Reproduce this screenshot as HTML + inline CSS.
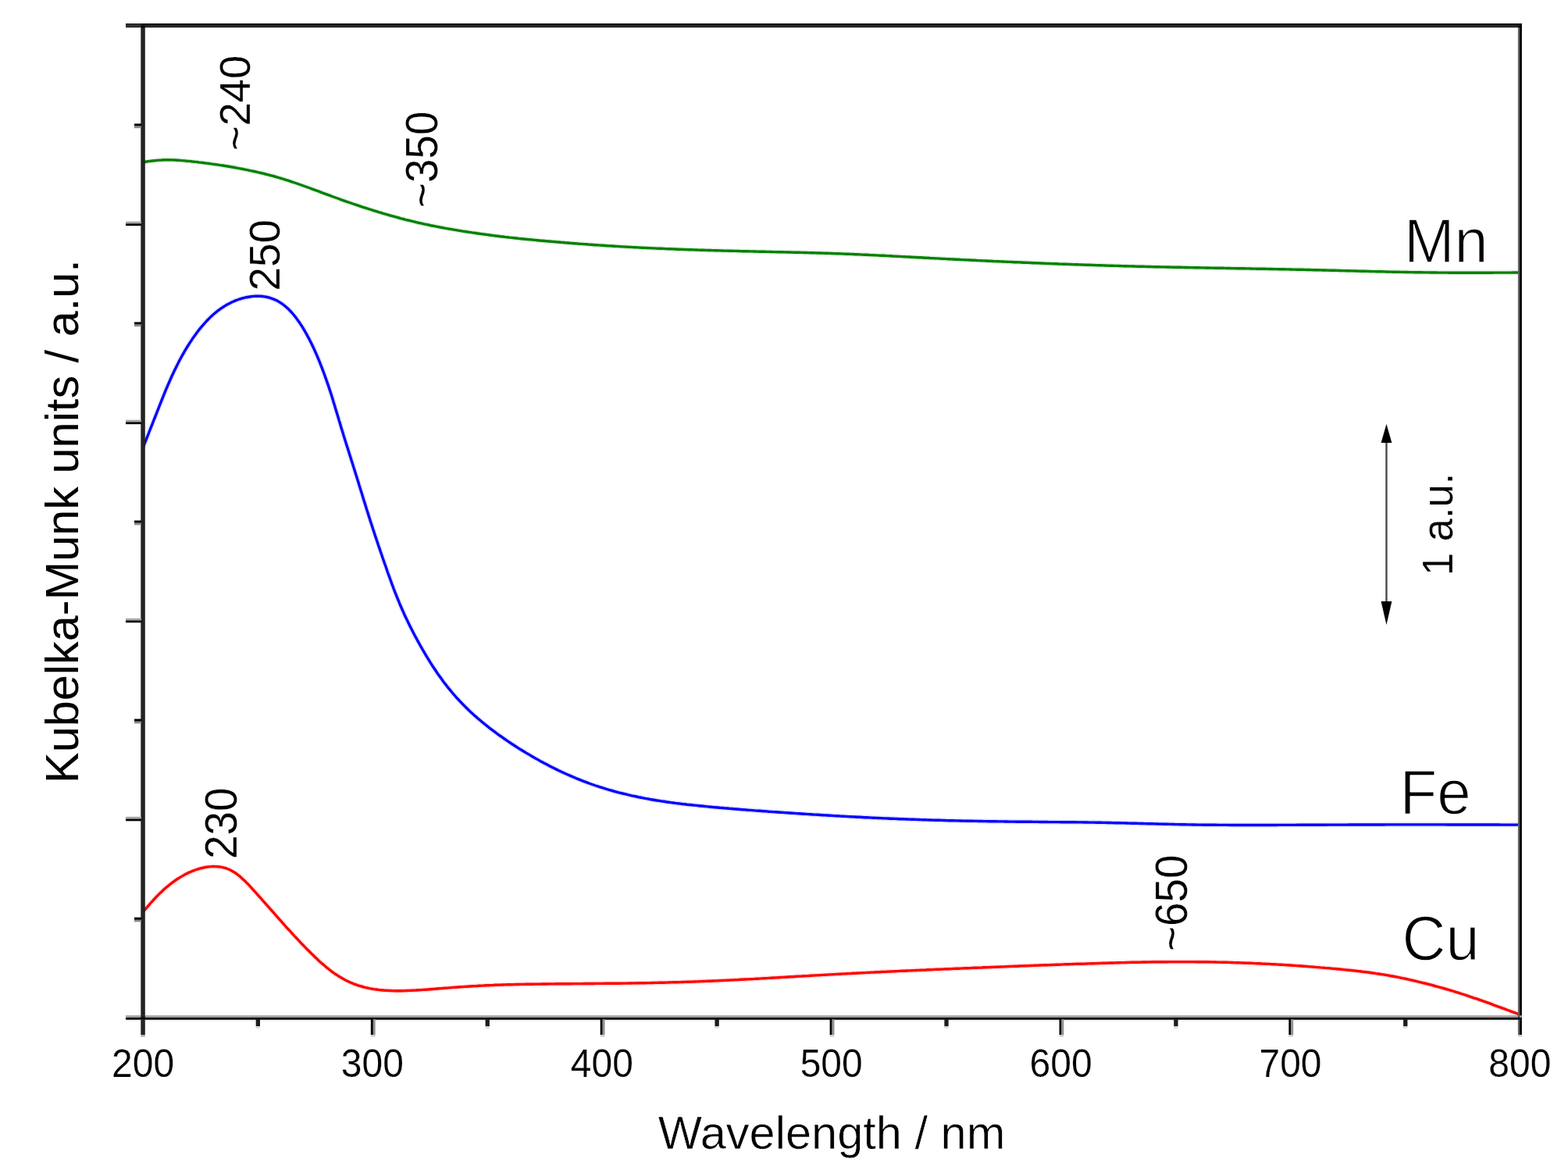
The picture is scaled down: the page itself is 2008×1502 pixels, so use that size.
<!DOCTYPE html>
<html lang="en"><head><meta charset="utf-8"><title>Kubelka-Munk spectra</title>
<style>
html,body{margin:0;padding:0;background:#fff;}
body{width:2008px;height:1502px;overflow:hidden;}
svg{display:block;}
text{font-family:"Liberation Sans",sans-serif;fill:#000;stroke:#fff;stroke-linejoin:round;}
.tick{font-size:48px;stroke-width:0.2px;}
.title{font-size:59.4px;stroke-width:0.6px;}
.ytitle{font-size:59.4px;stroke-width:0;}
.lab{font-size:76px;stroke-width:1.4px;}
.ann{font-size:54px;stroke-width:0.2px;}
.au{font-size:52.5px;stroke-width:0.2px;}
</style></head><body>
<svg width="2008" height="1502" viewBox="0 0 2008 1502">
<rect width="2008" height="1502" fill="#fff"/>

<g fill="none" stroke-linejoin="round" stroke-linecap="butt">
<path d="M183.0 207.7 L186.0 207.2 L188.9 206.8 L191.9 206.4 L194.8 206.0 L197.8 205.7 L200.8 205.4 L203.8 205.1 L206.8 205.0 L209.7 204.8 L212.7 204.8 L215.7 204.8 L218.7 204.8 L221.7 204.9 L224.7 205.0 L227.7 205.2 L230.7 205.4 L233.6 205.6 L236.6 205.9 L239.6 206.2 L242.6 206.4 L245.6 206.8 L248.6 207.1 L251.6 207.4 L254.5 207.8 L257.5 208.1 L260.5 208.5 L263.5 208.9 L266.5 209.2 L269.4 209.6 L272.4 210.1 L275.4 210.5 L278.3 210.9 L281.3 211.4 L284.3 211.8 L287.2 212.3 L290.2 212.8 L293.2 213.3 L296.1 213.8 L299.1 214.3 L302.0 214.8 L305.0 215.4 L307.9 215.9 L310.9 216.5 L313.8 217.1 L316.7 217.7 L319.7 218.3 L322.6 218.9 L325.5 219.5 L328.5 220.2 L331.4 220.9 L334.3 221.5 L337.2 222.2 L340.1 223.0 L343.0 223.7 L345.9 224.5 L348.8 225.2 L351.7 226.0 L354.6 226.8 L357.5 227.7 L360.3 228.5 L363.2 229.4 L366.1 230.3 L368.9 231.2 L371.8 232.1 L374.6 233.1 L377.4 234.0 L380.3 235.0 L383.1 236.0 L385.9 237.0 L388.8 238.0 L391.6 239.0 L394.4 240.0 L397.2 241.0 L400.0 242.1 L402.8 243.1 L405.6 244.2 L408.5 245.2 L411.3 246.3 L414.1 247.3 L416.9 248.4 L419.7 249.4 L422.5 250.4 L425.3 251.5 L428.1 252.5 L431.0 253.5 L433.8 254.5 L436.6 255.6 L439.4 256.6 L442.2 257.6 L445.1 258.6 L447.9 259.5 L450.7 260.5 L453.6 261.5 L456.4 262.4 L459.3 263.4 L462.1 264.3 L465.0 265.3 L467.8 266.2 L470.7 267.1 L473.5 268.0 L476.4 268.9 L479.2 269.8 L482.1 270.7 L485.0 271.6 L487.9 272.4 L490.7 273.3 L493.6 274.1 L496.5 275.0 L499.4 275.8 L502.2 276.6 L505.1 277.4 L508.0 278.2 L510.9 279.0 L513.8 279.8 L516.7 280.5 L519.6 281.3 L522.5 282.0 L525.4 282.7 L528.3 283.4 L531.3 284.1 L534.2 284.8 L537.1 285.5 L540.0 286.1 L542.9 286.8 L545.9 287.4 L548.8 288.0 L551.7 288.7 L554.7 289.2 L557.6 289.8 L560.6 290.4 L563.5 291.0 L566.4 291.5 L569.4 292.1 L572.3 292.6 L575.3 293.1 L578.3 293.6 L581.2 294.1 L584.2 294.6 L587.1 295.1 L590.1 295.6 L593.0 296.1 L596.0 296.5 L599.0 297.0 L601.9 297.4 L604.9 297.9 L607.9 298.3 L610.8 298.8 L613.8 299.2 L616.8 299.6 L619.7 300.0 L622.7 300.4 L625.7 300.8 L628.6 301.2 L631.6 301.6 L634.6 302.0 L637.6 302.3 L640.5 302.7 L643.5 303.0 L646.5 303.4 L649.5 303.7 L652.5 304.1 L655.4 304.4 L658.4 304.7 L661.4 305.0 L664.4 305.4 L667.4 305.7 L670.3 306.0 L673.3 306.3 L676.3 306.6 L679.3 306.8 L682.3 307.1 L685.3 307.4 L688.2 307.7 L691.2 308.0 L694.2 308.2 L697.2 308.5 L700.2 308.8 L703.2 309.0 L706.2 309.3 L709.1 309.5 L712.1 309.8 L715.1 310.0 L718.1 310.3 L721.1 310.5 L724.1 310.8 L727.1 311.0 L730.1 311.3 L733.1 311.5 L736.0 311.7 L739.0 311.9 L742.0 312.2 L745.0 312.4 L748.0 312.6 L751.0 312.8 L754.0 313.1 L757.0 313.3 L760.0 313.5 L763.0 313.7 L765.9 313.9 L768.9 314.1 L771.9 314.3 L774.9 314.5 L777.9 314.7 L780.9 314.9 L783.9 315.0 L786.9 315.2 L789.9 315.4 L792.9 315.6 L795.9 315.8 L798.9 315.9 L801.8 316.1 L804.8 316.3 L807.8 316.4 L810.8 316.6 L813.8 316.7 L816.8 316.9 L819.8 317.1 L822.8 317.2 L825.8 317.4 L828.8 317.5 L831.8 317.6 L834.8 317.8 L837.8 317.9 L840.8 318.1 L843.8 318.2 L846.8 318.3 L849.8 318.4 L852.8 318.6 L855.7 318.7 L858.7 318.8 L861.7 318.9 L864.7 319.0 L867.7 319.2 L870.7 319.3 L873.7 319.4 L876.7 319.5 L879.7 319.6 L882.7 319.7 L885.7 319.8 L888.7 319.9 L891.7 320.0 L894.7 320.1 L897.7 320.2 L900.7 320.3 L903.7 320.4 L906.7 320.5 L909.7 320.5 L912.7 320.6 L915.7 320.7 L918.7 320.8 L921.7 320.9 L924.7 321.0 L927.7 321.1 L930.7 321.1 L933.6 321.2 L936.6 321.3 L939.6 321.4 L942.6 321.4 L945.6 321.5 L948.6 321.6 L951.6 321.7 L954.6 321.7 L957.6 321.8 L960.6 321.9 L963.6 321.9 L966.6 322.0 L969.6 322.1 L972.6 322.2 L975.6 322.2 L978.6 322.3 L981.6 322.4 L984.6 322.4 L987.6 322.5 L990.6 322.6 L993.6 322.6 L996.6 322.7 L999.6 322.8 L1002.6 322.8 L1005.6 322.9 L1008.6 323.0 L1011.6 323.0 L1014.6 323.1 L1017.6 323.2 L1020.6 323.2 L1023.6 323.3 L1026.6 323.4 L1029.6 323.5 L1032.5 323.5 L1035.5 323.6 L1038.5 323.7 L1041.5 323.8 L1044.5 323.9 L1047.5 324.0 L1050.5 324.0 L1053.5 324.1 L1056.5 324.2 L1059.5 324.3 L1062.5 324.4 L1065.5 324.5 L1068.5 324.6 L1071.5 324.7 L1074.5 324.8 L1077.5 324.9 L1080.5 325.1 L1083.5 325.2 L1086.5 325.3 L1089.5 325.4 L1092.5 325.5 L1095.5 325.7 L1098.5 325.8 L1101.4 325.9 L1104.4 326.1 L1107.4 326.2 L1110.4 326.3 L1113.4 326.5 L1116.4 326.6 L1119.4 326.8 L1122.4 326.9 L1125.4 327.1 L1128.4 327.2 L1131.4 327.3 L1134.4 327.5 L1137.4 327.6 L1140.4 327.8 L1143.4 328.0 L1146.4 328.1 L1149.4 328.3 L1152.3 328.4 L1155.3 328.6 L1158.3 328.7 L1161.3 328.9 L1164.3 329.0 L1167.3 329.2 L1170.3 329.4 L1173.3 329.5 L1176.3 329.7 L1179.3 329.8 L1182.3 330.0 L1185.3 330.2 L1188.3 330.3 L1191.3 330.5 L1194.3 330.6 L1197.3 330.8 L1200.2 330.9 L1203.2 331.1 L1206.2 331.3 L1209.2 331.4 L1212.2 331.6 L1215.2 331.7 L1218.2 331.9 L1221.2 332.0 L1224.2 332.2 L1227.2 332.3 L1230.2 332.5 L1233.2 332.6 L1236.2 332.8 L1239.2 332.9 L1242.2 333.0 L1245.2 333.2 L1248.2 333.3 L1251.1 333.5 L1254.1 333.6 L1257.1 333.8 L1260.1 333.9 L1263.1 334.0 L1266.1 334.2 L1269.1 334.3 L1272.1 334.5 L1275.1 334.6 L1278.1 334.7 L1281.1 334.9 L1284.1 335.0 L1287.1 335.1 L1290.1 335.3 L1293.1 335.4 L1296.1 335.5 L1299.1 335.7 L1302.1 335.8 L1305.1 335.9 L1308.0 336.0 L1311.0 336.2 L1314.0 336.3 L1317.0 336.4 L1320.0 336.5 L1323.0 336.7 L1326.0 336.8 L1329.0 336.9 L1332.0 337.0 L1335.0 337.1 L1338.0 337.3 L1341.0 337.4 L1344.0 337.5 L1347.0 337.6 L1350.0 337.7 L1353.0 337.8 L1356.0 338.0 L1359.0 338.1 L1362.0 338.2 L1365.0 338.3 L1368.0 338.4 L1371.0 338.5 L1374.0 338.6 L1376.9 338.7 L1379.9 338.8 L1382.9 338.9 L1385.9 339.0 L1388.9 339.1 L1391.9 339.2 L1394.9 339.3 L1397.9 339.4 L1400.9 339.5 L1403.9 339.6 L1406.9 339.7 L1409.9 339.8 L1412.9 339.9 L1415.9 340.0 L1418.9 340.1 L1421.9 340.2 L1424.9 340.3 L1427.9 340.4 L1430.9 340.4 L1433.9 340.5 L1436.9 340.6 L1439.9 340.7 L1442.9 340.8 L1445.9 340.9 L1448.9 340.9 L1451.9 341.0 L1454.9 341.1 L1457.8 341.2 L1460.8 341.2 L1463.8 341.3 L1466.8 341.4 L1469.8 341.5 L1472.8 341.5 L1475.8 341.6 L1478.8 341.7 L1481.8 341.7 L1484.8 341.8 L1487.8 341.9 L1490.8 341.9 L1493.8 342.0 L1496.8 342.0 L1499.8 342.1 L1502.8 342.2 L1505.8 342.2 L1508.8 342.3 L1511.8 342.3 L1514.8 342.4 L1517.8 342.5 L1520.8 342.5 L1523.8 342.6 L1526.8 342.6 L1529.8 342.7 L1532.8 342.7 L1535.8 342.8 L1538.8 342.9 L1541.8 342.9 L1544.8 343.0 L1547.8 343.0 L1550.8 343.1 L1553.8 343.1 L1556.8 343.2 L1559.8 343.2 L1562.7 343.3 L1565.7 343.3 L1568.7 343.4 L1571.7 343.5 L1574.7 343.5 L1577.7 343.6 L1580.7 343.6 L1583.7 343.7 L1586.7 343.7 L1589.7 343.8 L1592.7 343.8 L1595.7 343.9 L1598.7 343.9 L1601.7 344.0 L1604.7 344.1 L1607.7 344.1 L1610.7 344.2 L1613.7 344.2 L1616.7 344.3 L1619.7 344.3 L1622.7 344.4 L1625.7 344.5 L1628.7 344.5 L1631.7 344.6 L1634.7 344.6 L1637.7 344.7 L1640.7 344.8 L1643.7 344.8 L1646.7 344.9 L1649.7 344.9 L1652.7 345.0 L1655.7 345.1 L1658.7 345.1 L1661.7 345.2 L1664.7 345.3 L1667.7 345.3 L1670.6 345.4 L1673.6 345.5 L1676.6 345.5 L1679.6 345.6 L1682.6 345.7 L1685.6 345.7 L1688.6 345.8 L1691.6 345.9 L1694.6 346.0 L1697.6 346.0 L1700.6 346.1 L1703.6 346.2 L1706.6 346.2 L1709.6 346.3 L1712.6 346.4 L1715.6 346.5 L1718.6 346.6 L1721.6 346.6 L1724.6 346.7 L1727.6 346.8 L1730.6 346.9 L1733.6 346.9 L1736.6 347.0 L1739.6 347.1 L1742.6 347.2 L1745.6 347.3 L1748.6 347.3 L1751.6 347.4 L1754.6 347.5 L1757.6 347.6 L1760.6 347.6 L1763.6 347.7 L1766.5 347.8 L1769.5 347.8 L1772.5 347.9 L1775.5 348.0 L1778.5 348.1 L1781.5 348.1 L1784.5 348.2 L1787.5 348.3 L1790.5 348.3 L1793.5 348.4 L1796.5 348.4 L1799.5 348.5 L1802.5 348.5 L1805.5 348.6 L1808.5 348.6 L1811.5 348.7 L1814.5 348.7 L1817.5 348.8 L1820.5 348.8 L1823.5 348.9 L1826.5 348.9 L1829.5 348.9 L1832.5 349.0 L1835.5 349.0 L1838.5 349.0 L1841.5 349.1 L1844.5 349.1 L1847.5 349.1 L1850.5 349.1 L1853.5 349.1 L1856.5 349.2 L1859.5 349.2 L1862.5 349.2 L1865.5 349.2 L1868.5 349.2 L1871.5 349.2 L1874.5 349.2 L1877.4 349.2 L1880.4 349.2 L1883.4 349.2 L1886.4 349.2 L1889.4 349.2 L1892.4 349.2 L1895.4 349.2 L1898.4 349.2 L1901.4 349.2 L1904.4 349.2 L1907.4 349.2 L1910.4 349.2 L1913.4 349.1 L1916.4 349.1 L1919.4 349.1 L1922.4 349.1 L1925.4 349.1 L1928.4 349.1 L1931.4 349.1 L1934.4 349.1 L1937.4 349.0 L1940.4 349.0 L1943.4 349.0 L1946.4 349.0" stroke="#008000" stroke-opacity="0.10" stroke-width="6.6"/>
<path d="M183.0 207.7 L186.0 207.2 L188.9 206.8 L191.9 206.4 L194.8 206.0 L197.8 205.7 L200.8 205.4 L203.8 205.1 L206.8 205.0 L209.7 204.8 L212.7 204.8 L215.7 204.8 L218.7 204.8 L221.7 204.9 L224.7 205.0 L227.7 205.2 L230.7 205.4 L233.6 205.6 L236.6 205.9 L239.6 206.2 L242.6 206.4 L245.6 206.8 L248.6 207.1 L251.6 207.4 L254.5 207.8 L257.5 208.1 L260.5 208.5 L263.5 208.9 L266.5 209.2 L269.4 209.6 L272.4 210.1 L275.4 210.5 L278.3 210.9 L281.3 211.4 L284.3 211.8 L287.2 212.3 L290.2 212.8 L293.2 213.3 L296.1 213.8 L299.1 214.3 L302.0 214.8 L305.0 215.4 L307.9 215.9 L310.9 216.5 L313.8 217.1 L316.7 217.7 L319.7 218.3 L322.6 218.9 L325.5 219.5 L328.5 220.2 L331.4 220.9 L334.3 221.5 L337.2 222.2 L340.1 223.0 L343.0 223.7 L345.9 224.5 L348.8 225.2 L351.7 226.0 L354.6 226.8 L357.5 227.7 L360.3 228.5 L363.2 229.4 L366.1 230.3 L368.9 231.2 L371.8 232.1 L374.6 233.1 L377.4 234.0 L380.3 235.0 L383.1 236.0 L385.9 237.0 L388.8 238.0 L391.6 239.0 L394.4 240.0 L397.2 241.0 L400.0 242.1 L402.8 243.1 L405.6 244.2 L408.5 245.2 L411.3 246.3 L414.1 247.3 L416.9 248.4 L419.7 249.4 L422.5 250.4 L425.3 251.5 L428.1 252.5 L431.0 253.5 L433.8 254.5 L436.6 255.6 L439.4 256.6 L442.2 257.6 L445.1 258.6 L447.9 259.5 L450.7 260.5 L453.6 261.5 L456.4 262.4 L459.3 263.4 L462.1 264.3 L465.0 265.3 L467.8 266.2 L470.7 267.1 L473.5 268.0 L476.4 268.9 L479.2 269.8 L482.1 270.7 L485.0 271.6 L487.9 272.4 L490.7 273.3 L493.6 274.1 L496.5 275.0 L499.4 275.8 L502.2 276.6 L505.1 277.4 L508.0 278.2 L510.9 279.0 L513.8 279.8 L516.7 280.5 L519.6 281.3 L522.5 282.0 L525.4 282.7 L528.3 283.4 L531.3 284.1 L534.2 284.8 L537.1 285.5 L540.0 286.1 L542.9 286.8 L545.9 287.4 L548.8 288.0 L551.7 288.7 L554.7 289.2 L557.6 289.8 L560.6 290.4 L563.5 291.0 L566.4 291.5 L569.4 292.1 L572.3 292.6 L575.3 293.1 L578.3 293.6 L581.2 294.1 L584.2 294.6 L587.1 295.1 L590.1 295.6 L593.0 296.1 L596.0 296.5 L599.0 297.0 L601.9 297.4 L604.9 297.9 L607.9 298.3 L610.8 298.8 L613.8 299.2 L616.8 299.6 L619.7 300.0 L622.7 300.4 L625.7 300.8 L628.6 301.2 L631.6 301.6 L634.6 302.0 L637.6 302.3 L640.5 302.7 L643.5 303.0 L646.5 303.4 L649.5 303.7 L652.5 304.1 L655.4 304.4 L658.4 304.7 L661.4 305.0 L664.4 305.4 L667.4 305.7 L670.3 306.0 L673.3 306.3 L676.3 306.6 L679.3 306.8 L682.3 307.1 L685.3 307.4 L688.2 307.7 L691.2 308.0 L694.2 308.2 L697.2 308.5 L700.2 308.8 L703.2 309.0 L706.2 309.3 L709.1 309.5 L712.1 309.8 L715.1 310.0 L718.1 310.3 L721.1 310.5 L724.1 310.8 L727.1 311.0 L730.1 311.3 L733.1 311.5 L736.0 311.7 L739.0 311.9 L742.0 312.2 L745.0 312.4 L748.0 312.6 L751.0 312.8 L754.0 313.1 L757.0 313.3 L760.0 313.5 L763.0 313.7 L765.9 313.9 L768.9 314.1 L771.9 314.3 L774.9 314.5 L777.9 314.7 L780.9 314.9 L783.9 315.0 L786.9 315.2 L789.9 315.4 L792.9 315.6 L795.9 315.8 L798.9 315.9 L801.8 316.1 L804.8 316.3 L807.8 316.4 L810.8 316.6 L813.8 316.7 L816.8 316.9 L819.8 317.1 L822.8 317.2 L825.8 317.4 L828.8 317.5 L831.8 317.6 L834.8 317.8 L837.8 317.9 L840.8 318.1 L843.8 318.2 L846.8 318.3 L849.8 318.4 L852.8 318.6 L855.7 318.7 L858.7 318.8 L861.7 318.9 L864.7 319.0 L867.7 319.2 L870.7 319.3 L873.7 319.4 L876.7 319.5 L879.7 319.6 L882.7 319.7 L885.7 319.8 L888.7 319.9 L891.7 320.0 L894.7 320.1 L897.7 320.2 L900.7 320.3 L903.7 320.4 L906.7 320.5 L909.7 320.5 L912.7 320.6 L915.7 320.7 L918.7 320.8 L921.7 320.9 L924.7 321.0 L927.7 321.1 L930.7 321.1 L933.6 321.2 L936.6 321.3 L939.6 321.4 L942.6 321.4 L945.6 321.5 L948.6 321.6 L951.6 321.7 L954.6 321.7 L957.6 321.8 L960.6 321.9 L963.6 321.9 L966.6 322.0 L969.6 322.1 L972.6 322.2 L975.6 322.2 L978.6 322.3 L981.6 322.4 L984.6 322.4 L987.6 322.5 L990.6 322.6 L993.6 322.6 L996.6 322.7 L999.6 322.8 L1002.6 322.8 L1005.6 322.9 L1008.6 323.0 L1011.6 323.0 L1014.6 323.1 L1017.6 323.2 L1020.6 323.2 L1023.6 323.3 L1026.6 323.4 L1029.6 323.5 L1032.5 323.5 L1035.5 323.6 L1038.5 323.7 L1041.5 323.8 L1044.5 323.9 L1047.5 324.0 L1050.5 324.0 L1053.5 324.1 L1056.5 324.2 L1059.5 324.3 L1062.5 324.4 L1065.5 324.5 L1068.5 324.6 L1071.5 324.7 L1074.5 324.8 L1077.5 324.9 L1080.5 325.1 L1083.5 325.2 L1086.5 325.3 L1089.5 325.4 L1092.5 325.5 L1095.5 325.7 L1098.5 325.8 L1101.4 325.9 L1104.4 326.1 L1107.4 326.2 L1110.4 326.3 L1113.4 326.5 L1116.4 326.6 L1119.4 326.8 L1122.4 326.9 L1125.4 327.1 L1128.4 327.2 L1131.4 327.3 L1134.4 327.5 L1137.4 327.6 L1140.4 327.8 L1143.4 328.0 L1146.4 328.1 L1149.4 328.3 L1152.3 328.4 L1155.3 328.6 L1158.3 328.7 L1161.3 328.9 L1164.3 329.0 L1167.3 329.2 L1170.3 329.4 L1173.3 329.5 L1176.3 329.7 L1179.3 329.8 L1182.3 330.0 L1185.3 330.2 L1188.3 330.3 L1191.3 330.5 L1194.3 330.6 L1197.3 330.8 L1200.2 330.9 L1203.2 331.1 L1206.2 331.3 L1209.2 331.4 L1212.2 331.6 L1215.2 331.7 L1218.2 331.9 L1221.2 332.0 L1224.2 332.2 L1227.2 332.3 L1230.2 332.5 L1233.2 332.6 L1236.2 332.8 L1239.2 332.9 L1242.2 333.0 L1245.2 333.2 L1248.2 333.3 L1251.1 333.5 L1254.1 333.6 L1257.1 333.8 L1260.1 333.9 L1263.1 334.0 L1266.1 334.2 L1269.1 334.3 L1272.1 334.5 L1275.1 334.6 L1278.1 334.7 L1281.1 334.9 L1284.1 335.0 L1287.1 335.1 L1290.1 335.3 L1293.1 335.4 L1296.1 335.5 L1299.1 335.7 L1302.1 335.8 L1305.1 335.9 L1308.0 336.0 L1311.0 336.2 L1314.0 336.3 L1317.0 336.4 L1320.0 336.5 L1323.0 336.7 L1326.0 336.8 L1329.0 336.9 L1332.0 337.0 L1335.0 337.1 L1338.0 337.3 L1341.0 337.4 L1344.0 337.5 L1347.0 337.6 L1350.0 337.7 L1353.0 337.8 L1356.0 338.0 L1359.0 338.1 L1362.0 338.2 L1365.0 338.3 L1368.0 338.4 L1371.0 338.5 L1374.0 338.6 L1376.9 338.7 L1379.9 338.8 L1382.9 338.9 L1385.9 339.0 L1388.9 339.1 L1391.9 339.2 L1394.9 339.3 L1397.9 339.4 L1400.9 339.5 L1403.9 339.6 L1406.9 339.7 L1409.9 339.8 L1412.9 339.9 L1415.9 340.0 L1418.9 340.1 L1421.9 340.2 L1424.9 340.3 L1427.9 340.4 L1430.9 340.4 L1433.9 340.5 L1436.9 340.6 L1439.9 340.7 L1442.9 340.8 L1445.9 340.9 L1448.9 340.9 L1451.9 341.0 L1454.9 341.1 L1457.8 341.2 L1460.8 341.2 L1463.8 341.3 L1466.8 341.4 L1469.8 341.5 L1472.8 341.5 L1475.8 341.6 L1478.8 341.7 L1481.8 341.7 L1484.8 341.8 L1487.8 341.9 L1490.8 341.9 L1493.8 342.0 L1496.8 342.0 L1499.8 342.1 L1502.8 342.2 L1505.8 342.2 L1508.8 342.3 L1511.8 342.3 L1514.8 342.4 L1517.8 342.5 L1520.8 342.5 L1523.8 342.6 L1526.8 342.6 L1529.8 342.7 L1532.8 342.7 L1535.8 342.8 L1538.8 342.9 L1541.8 342.9 L1544.8 343.0 L1547.8 343.0 L1550.8 343.1 L1553.8 343.1 L1556.8 343.2 L1559.8 343.2 L1562.7 343.3 L1565.7 343.3 L1568.7 343.4 L1571.7 343.5 L1574.7 343.5 L1577.7 343.6 L1580.7 343.6 L1583.7 343.7 L1586.7 343.7 L1589.7 343.8 L1592.7 343.8 L1595.7 343.9 L1598.7 343.9 L1601.7 344.0 L1604.7 344.1 L1607.7 344.1 L1610.7 344.2 L1613.7 344.2 L1616.7 344.3 L1619.7 344.3 L1622.7 344.4 L1625.7 344.5 L1628.7 344.5 L1631.7 344.6 L1634.7 344.6 L1637.7 344.7 L1640.7 344.8 L1643.7 344.8 L1646.7 344.9 L1649.7 344.9 L1652.7 345.0 L1655.7 345.1 L1658.7 345.1 L1661.7 345.2 L1664.7 345.3 L1667.7 345.3 L1670.6 345.4 L1673.6 345.5 L1676.6 345.5 L1679.6 345.6 L1682.6 345.7 L1685.6 345.7 L1688.6 345.8 L1691.6 345.9 L1694.6 346.0 L1697.6 346.0 L1700.6 346.1 L1703.6 346.2 L1706.6 346.2 L1709.6 346.3 L1712.6 346.4 L1715.6 346.5 L1718.6 346.6 L1721.6 346.6 L1724.6 346.7 L1727.6 346.8 L1730.6 346.9 L1733.6 346.9 L1736.6 347.0 L1739.6 347.1 L1742.6 347.2 L1745.6 347.3 L1748.6 347.3 L1751.6 347.4 L1754.6 347.5 L1757.6 347.6 L1760.6 347.6 L1763.6 347.7 L1766.5 347.8 L1769.5 347.8 L1772.5 347.9 L1775.5 348.0 L1778.5 348.1 L1781.5 348.1 L1784.5 348.2 L1787.5 348.3 L1790.5 348.3 L1793.5 348.4 L1796.5 348.4 L1799.5 348.5 L1802.5 348.5 L1805.5 348.6 L1808.5 348.6 L1811.5 348.7 L1814.5 348.7 L1817.5 348.8 L1820.5 348.8 L1823.5 348.9 L1826.5 348.9 L1829.5 348.9 L1832.5 349.0 L1835.5 349.0 L1838.5 349.0 L1841.5 349.1 L1844.5 349.1 L1847.5 349.1 L1850.5 349.1 L1853.5 349.1 L1856.5 349.2 L1859.5 349.2 L1862.5 349.2 L1865.5 349.2 L1868.5 349.2 L1871.5 349.2 L1874.5 349.2 L1877.4 349.2 L1880.4 349.2 L1883.4 349.2 L1886.4 349.2 L1889.4 349.2 L1892.4 349.2 L1895.4 349.2 L1898.4 349.2 L1901.4 349.2 L1904.4 349.2 L1907.4 349.2 L1910.4 349.2 L1913.4 349.1 L1916.4 349.1 L1919.4 349.1 L1922.4 349.1 L1925.4 349.1 L1928.4 349.1 L1931.4 349.1 L1934.4 349.1 L1937.4 349.0 L1940.4 349.0 L1943.4 349.0 L1946.4 349.0" stroke="#008000" stroke-width="3.4"/>
<path d="M183.0 573.5 L184.1 570.7 L185.2 567.9 L186.3 565.1 L187.4 562.4 L188.5 559.6 L189.6 556.8 L190.7 554.0 L191.8 551.2 L192.9 548.4 L194.0 545.6 L195.1 542.8 L196.2 540.0 L197.3 537.2 L198.4 534.5 L199.5 531.7 L200.6 528.9 L201.7 526.1 L202.8 523.3 L203.9 520.5 L205.0 517.7 L206.1 514.9 L207.2 512.1 L208.3 509.3 L209.4 506.6 L210.5 503.8 L211.7 501.0 L212.8 498.2 L214.0 495.5 L215.2 492.7 L216.4 490.0 L217.6 487.2 L218.8 484.5 L220.0 481.7 L221.3 479.0 L222.6 476.3 L223.9 473.6 L225.2 470.9 L226.5 468.2 L227.9 465.5 L229.2 462.8 L230.6 460.2 L232.1 457.5 L233.5 454.9 L235.0 452.3 L236.5 449.7 L238.0 447.1 L239.6 444.5 L241.2 442.0 L242.8 439.4 L244.5 436.9 L246.1 434.4 L247.8 431.9 L249.6 429.4 L251.4 427.0 L253.2 424.6 L255.0 422.2 L256.9 419.9 L258.8 417.6 L260.8 415.3 L262.8 413.0 L264.8 410.8 L266.9 408.7 L269.0 406.6 L271.2 404.5 L273.4 402.5 L275.7 400.6 L278.0 398.7 L280.4 396.9 L282.8 395.1 L285.3 393.5 L287.8 391.9 L290.4 390.3 L293.0 388.9 L295.7 387.5 L298.4 386.3 L301.1 385.1 L303.9 384.0 L306.8 383.0 L309.7 382.2 L312.6 381.4 L315.5 380.7 L318.4 380.2 L321.4 379.7 L324.4 379.4 L327.4 379.2 L330.3 379.2 L333.3 379.3 L336.3 379.5 L339.2 379.9 L342.1 380.5 L344.9 381.2 L347.7 382.1 L350.5 383.1 L353.2 384.3 L355.8 385.6 L358.3 387.1 L360.8 388.7 L363.2 390.5 L365.5 392.3 L367.7 394.3 L369.9 396.3 L372.0 398.5 L374.0 400.7 L376.0 403.0 L377.9 405.3 L379.7 407.7 L381.5 410.2 L383.2 412.6 L384.9 415.1 L386.6 417.7 L388.2 420.3 L389.7 422.9 L391.2 425.5 L392.7 428.1 L394.1 430.8 L395.6 433.4 L396.9 436.1 L398.3 438.8 L399.6 441.5 L400.9 444.2 L402.2 446.9 L403.4 449.7 L404.6 452.4 L405.8 455.2 L407.0 457.9 L408.1 460.7 L409.3 463.5 L410.4 466.3 L411.5 469.1 L412.6 471.9 L413.6 474.7 L414.7 477.5 L415.7 480.3 L416.7 483.1 L417.7 485.9 L418.7 488.8 L419.7 491.6 L420.7 494.4 L421.6 497.3 L422.5 500.1 L423.5 503.0 L424.4 505.8 L425.3 508.7 L426.2 511.5 L427.0 514.4 L427.9 517.3 L428.8 520.2 L429.6 523.0 L430.5 525.9 L431.4 528.8 L432.2 531.6 L433.1 534.5 L433.9 537.4 L434.8 540.2 L435.7 543.1 L436.5 546.0 L437.4 548.9 L438.3 551.7 L439.2 554.6 L440.0 557.5 L440.9 560.3 L441.8 563.2 L442.7 566.0 L443.6 568.9 L444.5 571.8 L445.4 574.6 L446.3 577.5 L447.2 580.3 L448.1 583.2 L449.0 586.1 L449.9 588.9 L450.8 591.8 L451.7 594.6 L452.6 597.5 L453.5 600.3 L454.4 603.2 L455.3 606.1 L456.2 608.9 L457.1 611.8 L458.0 614.7 L458.9 617.5 L459.7 620.4 L460.6 623.2 L461.5 626.1 L462.4 629.0 L463.3 631.8 L464.2 634.7 L465.0 637.6 L465.9 640.4 L466.8 643.3 L467.7 646.1 L468.6 649.0 L469.5 651.9 L470.4 654.7 L471.3 657.6 L472.2 660.4 L473.1 663.3 L474.0 666.2 L474.9 669.0 L475.9 671.9 L476.8 674.7 L477.7 677.6 L478.7 680.4 L479.6 683.3 L480.5 686.1 L481.5 688.9 L482.4 691.8 L483.4 694.6 L484.3 697.5 L485.3 700.3 L486.3 703.2 L487.2 706.0 L488.2 708.8 L489.2 711.7 L490.1 714.5 L491.1 717.3 L492.1 720.2 L493.1 723.0 L494.1 725.8 L495.1 728.7 L496.0 731.5 L497.0 734.3 L498.1 737.1 L499.1 740.0 L500.1 742.8 L501.1 745.6 L502.1 748.4 L503.2 751.2 L504.2 754.0 L505.3 756.8 L506.4 759.6 L507.5 762.4 L508.6 765.2 L509.7 767.9 L510.9 770.7 L512.0 773.5 L513.2 776.2 L514.4 779.0 L515.6 781.7 L516.8 784.4 L518.0 787.2 L519.3 789.9 L520.6 792.6 L521.9 795.3 L523.2 798.0 L524.5 800.7 L525.8 803.3 L527.2 806.0 L528.6 808.7 L529.9 811.3 L531.3 814.0 L532.8 816.6 L534.2 819.2 L535.6 821.9 L537.1 824.5 L538.5 827.1 L540.0 829.7 L541.5 832.3 L543.0 834.9 L544.5 837.5 L546.1 840.1 L547.6 842.6 L549.2 845.2 L550.8 847.8 L552.4 850.3 L554.0 852.8 L555.6 855.3 L557.3 857.8 L559.0 860.3 L560.6 862.8 L562.4 865.2 L564.1 867.6 L565.9 870.1 L567.6 872.5 L569.4 874.9 L571.3 877.2 L573.1 879.6 L575.0 881.9 L576.9 884.2 L578.8 886.5 L580.8 888.8 L582.7 891.0 L584.7 893.3 L586.7 895.5 L588.7 897.7 L590.8 899.8 L592.9 902.0 L595.0 904.1 L597.1 906.2 L599.2 908.3 L601.4 910.4 L603.6 912.4 L605.8 914.4 L608.0 916.4 L610.3 918.4 L612.5 920.4 L614.8 922.3 L617.1 924.2 L619.4 926.2 L621.7 928.0 L624.1 929.9 L626.4 931.8 L628.8 933.6 L631.2 935.4 L633.6 937.2 L636.0 939.0 L638.4 940.8 L640.9 942.5 L643.3 944.2 L645.8 946.0 L648.3 947.7 L650.7 949.3 L653.2 951.0 L655.7 952.7 L658.2 954.3 L660.8 956.0 L663.3 957.6 L665.8 959.2 L668.4 960.7 L670.9 962.3 L673.5 963.9 L676.1 965.4 L678.7 966.9 L681.3 968.5 L683.9 970.0 L686.5 971.4 L689.1 972.9 L691.7 974.4 L694.3 975.8 L697.0 977.2 L699.6 978.6 L702.3 980.0 L704.9 981.4 L707.6 982.7 L710.3 984.1 L713.0 985.4 L715.7 986.7 L718.4 988.0 L721.1 989.2 L723.8 990.5 L726.6 991.7 L729.3 992.9 L732.1 994.1 L734.8 995.3 L737.6 996.5 L740.3 997.6 L743.1 998.7 L745.9 999.8 L748.7 1000.9 L751.5 1001.9 L754.3 1003.0 L757.1 1004.0 L760.0 1005.0 L762.8 1006.0 L765.6 1006.9 L768.5 1007.8 L771.3 1008.7 L774.2 1009.6 L777.0 1010.5 L779.9 1011.4 L782.8 1012.2 L785.7 1013.0 L788.6 1013.8 L791.5 1014.6 L794.4 1015.3 L797.3 1016.0 L800.2 1016.7 L803.1 1017.4 L806.0 1018.1 L808.9 1018.8 L811.9 1019.4 L814.8 1020.0 L817.7 1020.7 L820.7 1021.2 L823.6 1021.8 L826.6 1022.4 L829.5 1022.9 L832.5 1023.5 L835.4 1024.0 L838.4 1024.5 L841.3 1025.0 L844.3 1025.4 L847.2 1025.9 L850.2 1026.3 L853.2 1026.8 L856.1 1027.2 L859.1 1027.6 L862.1 1028.0 L865.1 1028.4 L868.0 1028.7 L871.0 1029.1 L874.0 1029.5 L877.0 1029.8 L879.9 1030.2 L882.9 1030.5 L885.9 1030.8 L888.9 1031.1 L891.9 1031.4 L894.9 1031.7 L897.8 1032.0 L900.8 1032.3 L903.8 1032.6 L906.8 1032.9 L909.8 1033.2 L912.8 1033.5 L915.8 1033.7 L918.7 1034.0 L921.7 1034.3 L924.7 1034.5 L927.7 1034.8 L930.7 1035.0 L933.7 1035.3 L936.7 1035.5 L939.7 1035.8 L942.6 1036.0 L945.6 1036.2 L948.6 1036.5 L951.6 1036.7 L954.6 1036.9 L957.6 1037.2 L960.6 1037.4 L963.6 1037.6 L966.6 1037.9 L969.6 1038.1 L972.5 1038.3 L975.5 1038.5 L978.5 1038.7 L981.5 1038.9 L984.5 1039.2 L987.5 1039.4 L990.5 1039.6 L993.5 1039.8 L996.5 1040.0 L999.5 1040.2 L1002.5 1040.4 L1005.4 1040.6 L1008.4 1040.8 L1011.4 1041.0 L1014.4 1041.2 L1017.4 1041.4 L1020.4 1041.6 L1023.4 1041.8 L1026.4 1042.0 L1029.4 1042.2 L1032.4 1042.4 L1035.4 1042.6 L1038.3 1042.8 L1041.3 1043.0 L1044.3 1043.1 L1047.3 1043.3 L1050.3 1043.5 L1053.3 1043.7 L1056.3 1043.9 L1059.3 1044.0 L1062.3 1044.2 L1065.3 1044.4 L1068.3 1044.6 L1071.3 1044.7 L1074.3 1044.9 L1077.2 1045.1 L1080.2 1045.2 L1083.2 1045.4 L1086.2 1045.6 L1089.2 1045.7 L1092.2 1045.9 L1095.2 1046.0 L1098.2 1046.2 L1101.2 1046.3 L1104.2 1046.5 L1107.2 1046.7 L1110.2 1046.8 L1113.2 1046.9 L1116.2 1047.1 L1119.2 1047.2 L1122.2 1047.4 L1125.1 1047.5 L1128.1 1047.6 L1131.1 1047.8 L1134.1 1047.9 L1137.1 1048.0 L1140.1 1048.2 L1143.1 1048.3 L1146.1 1048.4 L1149.1 1048.5 L1152.1 1048.7 L1155.1 1048.8 L1158.1 1048.9 L1161.1 1049.0 L1164.1 1049.1 L1167.1 1049.2 L1170.1 1049.3 L1173.1 1049.4 L1176.1 1049.5 L1179.1 1049.6 L1182.1 1049.7 L1185.1 1049.8 L1188.1 1049.9 L1191.1 1050.0 L1194.0 1050.1 L1197.0 1050.2 L1200.0 1050.3 L1203.0 1050.3 L1206.0 1050.4 L1209.0 1050.5 L1212.0 1050.6 L1215.0 1050.7 L1218.0 1050.7 L1221.0 1050.8 L1224.0 1050.9 L1227.0 1050.9 L1230.0 1051.0 L1233.0 1051.1 L1236.0 1051.1 L1239.0 1051.2 L1242.0 1051.3 L1245.0 1051.3 L1248.0 1051.4 L1251.0 1051.4 L1254.0 1051.5 L1257.0 1051.5 L1260.0 1051.6 L1263.0 1051.6 L1266.0 1051.7 L1269.0 1051.7 L1272.0 1051.8 L1275.0 1051.8 L1278.0 1051.9 L1281.0 1051.9 L1284.0 1051.9 L1287.0 1052.0 L1290.0 1052.0 L1292.9 1052.1 L1295.9 1052.1 L1298.9 1052.1 L1301.9 1052.2 L1304.9 1052.2 L1307.9 1052.2 L1310.9 1052.3 L1313.9 1052.3 L1316.9 1052.3 L1319.9 1052.3 L1322.9 1052.4 L1325.9 1052.4 L1328.9 1052.4 L1331.9 1052.5 L1334.9 1052.5 L1337.9 1052.5 L1340.9 1052.5 L1343.9 1052.6 L1346.9 1052.6 L1349.9 1052.6 L1352.9 1052.6 L1355.9 1052.6 L1358.9 1052.7 L1361.9 1052.7 L1364.9 1052.7 L1367.9 1052.8 L1370.9 1052.8 L1373.9 1052.8 L1376.9 1052.8 L1379.9 1052.9 L1382.9 1052.9 L1385.9 1052.9 L1388.9 1053.0 L1391.9 1053.0 L1394.9 1053.1 L1397.9 1053.1 L1400.9 1053.1 L1403.9 1053.2 L1406.9 1053.2 L1409.9 1053.3 L1412.8 1053.4 L1415.8 1053.4 L1418.8 1053.5 L1421.8 1053.5 L1424.8 1053.6 L1427.8 1053.7 L1430.8 1053.7 L1433.8 1053.8 L1436.8 1053.9 L1439.8 1053.9 L1442.8 1054.0 L1445.8 1054.1 L1448.8 1054.2 L1451.8 1054.2 L1454.8 1054.3 L1457.8 1054.4 L1460.8 1054.5 L1463.8 1054.5 L1466.8 1054.6 L1469.8 1054.7 L1472.8 1054.8 L1475.8 1054.8 L1478.8 1054.9 L1481.8 1055.0 L1484.8 1055.1 L1487.8 1055.1 L1490.8 1055.2 L1493.8 1055.3 L1496.8 1055.4 L1499.8 1055.4 L1502.8 1055.5 L1505.7 1055.6 L1508.7 1055.6 L1511.7 1055.7 L1514.7 1055.7 L1517.7 1055.8 L1520.7 1055.9 L1523.7 1055.9 L1526.7 1056.0 L1529.7 1056.0 L1532.7 1056.1 L1535.7 1056.1 L1538.7 1056.1 L1541.7 1056.2 L1544.7 1056.2 L1547.7 1056.3 L1550.7 1056.3 L1553.7 1056.3 L1556.7 1056.3 L1559.7 1056.4 L1562.7 1056.4 L1565.7 1056.4 L1568.7 1056.4 L1571.7 1056.4 L1574.7 1056.5 L1577.7 1056.5 L1580.7 1056.5 L1583.7 1056.5 L1586.7 1056.5 L1589.7 1056.5 L1592.7 1056.5 L1595.7 1056.5 L1598.7 1056.5 L1601.7 1056.5 L1604.7 1056.5 L1607.7 1056.5 L1610.7 1056.5 L1613.7 1056.5 L1616.6 1056.5 L1619.6 1056.5 L1622.6 1056.5 L1625.6 1056.5 L1628.6 1056.5 L1631.6 1056.5 L1634.6 1056.5 L1637.6 1056.4 L1640.6 1056.4 L1643.6 1056.4 L1646.6 1056.4 L1649.6 1056.4 L1652.6 1056.4 L1655.6 1056.4 L1658.6 1056.4 L1661.6 1056.3 L1664.6 1056.3 L1667.6 1056.3 L1670.6 1056.3 L1673.6 1056.3 L1676.6 1056.3 L1679.6 1056.2 L1682.6 1056.2 L1685.6 1056.2 L1688.6 1056.2 L1691.6 1056.2 L1694.6 1056.2 L1697.6 1056.2 L1700.6 1056.1 L1703.6 1056.1 L1706.6 1056.1 L1709.6 1056.1 L1712.6 1056.1 L1715.6 1056.1 L1718.6 1056.1 L1721.6 1056.1 L1724.6 1056.1 L1727.6 1056.0 L1730.6 1056.0 L1733.6 1056.0 L1736.6 1056.0 L1739.6 1056.0 L1742.6 1056.0 L1745.6 1056.0 L1748.6 1056.0 L1751.6 1056.0 L1754.5 1056.0 L1757.5 1056.0 L1760.5 1056.0 L1763.5 1056.0 L1766.5 1056.0 L1769.5 1056.0 L1772.5 1056.0 L1775.5 1055.9 L1778.5 1055.9 L1781.5 1055.9 L1784.5 1055.9 L1787.5 1055.9 L1790.5 1055.9 L1793.5 1055.9 L1796.5 1055.9 L1799.5 1055.9 L1802.5 1055.9 L1805.5 1055.9 L1808.5 1055.9 L1811.5 1055.9 L1814.5 1055.9 L1817.5 1055.9 L1820.5 1055.9 L1823.5 1055.9 L1826.5 1055.9 L1829.5 1055.9 L1832.5 1055.9 L1835.5 1055.9 L1838.5 1055.9 L1841.5 1055.9 L1844.5 1055.9 L1847.5 1055.9 L1850.5 1055.9 L1853.5 1056.0 L1856.5 1056.0 L1859.5 1056.0 L1862.5 1056.0 L1865.5 1056.0 L1868.5 1056.0 L1871.5 1056.0 L1874.5 1056.0 L1877.5 1056.0 L1880.5 1056.0 L1883.5 1056.0 L1886.4 1056.0 L1889.4 1056.0 L1892.4 1056.0 L1895.4 1056.0 L1898.4 1056.0 L1901.4 1056.0 L1904.4 1056.0 L1907.4 1056.0 L1910.4 1056.0 L1913.4 1056.0 L1916.4 1056.0 L1919.4 1056.0 L1922.4 1056.1 L1925.4 1056.1 L1928.4 1056.1 L1931.4 1056.1 L1934.4 1056.1 L1937.4 1056.1 L1940.4 1056.1 L1943.4 1056.1 L1946.4 1056.1" stroke="#0000ff" stroke-opacity="0.10" stroke-width="6.6"/>
<path d="M183.0 573.5 L184.1 570.7 L185.2 567.9 L186.3 565.1 L187.4 562.4 L188.5 559.6 L189.6 556.8 L190.7 554.0 L191.8 551.2 L192.9 548.4 L194.0 545.6 L195.1 542.8 L196.2 540.0 L197.3 537.2 L198.4 534.5 L199.5 531.7 L200.6 528.9 L201.7 526.1 L202.8 523.3 L203.9 520.5 L205.0 517.7 L206.1 514.9 L207.2 512.1 L208.3 509.3 L209.4 506.6 L210.5 503.8 L211.7 501.0 L212.8 498.2 L214.0 495.5 L215.2 492.7 L216.4 490.0 L217.6 487.2 L218.8 484.5 L220.0 481.7 L221.3 479.0 L222.6 476.3 L223.9 473.6 L225.2 470.9 L226.5 468.2 L227.9 465.5 L229.2 462.8 L230.6 460.2 L232.1 457.5 L233.5 454.9 L235.0 452.3 L236.5 449.7 L238.0 447.1 L239.6 444.5 L241.2 442.0 L242.8 439.4 L244.5 436.9 L246.1 434.4 L247.8 431.9 L249.6 429.4 L251.4 427.0 L253.2 424.6 L255.0 422.2 L256.9 419.9 L258.8 417.6 L260.8 415.3 L262.8 413.0 L264.8 410.8 L266.9 408.7 L269.0 406.6 L271.2 404.5 L273.4 402.5 L275.7 400.6 L278.0 398.7 L280.4 396.9 L282.8 395.1 L285.3 393.5 L287.8 391.9 L290.4 390.3 L293.0 388.9 L295.7 387.5 L298.4 386.3 L301.1 385.1 L303.9 384.0 L306.8 383.0 L309.7 382.2 L312.6 381.4 L315.5 380.7 L318.4 380.2 L321.4 379.7 L324.4 379.4 L327.4 379.2 L330.3 379.2 L333.3 379.3 L336.3 379.5 L339.2 379.9 L342.1 380.5 L344.9 381.2 L347.7 382.1 L350.5 383.1 L353.2 384.3 L355.8 385.6 L358.3 387.1 L360.8 388.7 L363.2 390.5 L365.5 392.3 L367.7 394.3 L369.9 396.3 L372.0 398.5 L374.0 400.7 L376.0 403.0 L377.9 405.3 L379.7 407.7 L381.5 410.2 L383.2 412.6 L384.9 415.1 L386.6 417.7 L388.2 420.3 L389.7 422.9 L391.2 425.5 L392.7 428.1 L394.1 430.8 L395.6 433.4 L396.9 436.1 L398.3 438.8 L399.6 441.5 L400.9 444.2 L402.2 446.9 L403.4 449.7 L404.6 452.4 L405.8 455.2 L407.0 457.9 L408.1 460.7 L409.3 463.5 L410.4 466.3 L411.5 469.1 L412.6 471.9 L413.6 474.7 L414.7 477.5 L415.7 480.3 L416.7 483.1 L417.7 485.9 L418.7 488.8 L419.7 491.6 L420.7 494.4 L421.6 497.3 L422.5 500.1 L423.5 503.0 L424.4 505.8 L425.3 508.7 L426.2 511.5 L427.0 514.4 L427.9 517.3 L428.8 520.2 L429.6 523.0 L430.5 525.9 L431.4 528.8 L432.2 531.6 L433.1 534.5 L433.9 537.4 L434.8 540.2 L435.7 543.1 L436.5 546.0 L437.4 548.9 L438.3 551.7 L439.2 554.6 L440.0 557.5 L440.9 560.3 L441.8 563.2 L442.7 566.0 L443.6 568.9 L444.5 571.8 L445.4 574.6 L446.3 577.5 L447.2 580.3 L448.1 583.2 L449.0 586.1 L449.9 588.9 L450.8 591.8 L451.7 594.6 L452.6 597.5 L453.5 600.3 L454.4 603.2 L455.3 606.1 L456.2 608.9 L457.1 611.8 L458.0 614.7 L458.9 617.5 L459.7 620.4 L460.6 623.2 L461.5 626.1 L462.4 629.0 L463.3 631.8 L464.2 634.7 L465.0 637.6 L465.9 640.4 L466.8 643.3 L467.7 646.1 L468.6 649.0 L469.5 651.9 L470.4 654.7 L471.3 657.6 L472.2 660.4 L473.1 663.3 L474.0 666.2 L474.9 669.0 L475.9 671.9 L476.8 674.7 L477.7 677.6 L478.7 680.4 L479.6 683.3 L480.5 686.1 L481.5 688.9 L482.4 691.8 L483.4 694.6 L484.3 697.5 L485.3 700.3 L486.3 703.2 L487.2 706.0 L488.2 708.8 L489.2 711.7 L490.1 714.5 L491.1 717.3 L492.1 720.2 L493.1 723.0 L494.1 725.8 L495.1 728.7 L496.0 731.5 L497.0 734.3 L498.1 737.1 L499.1 740.0 L500.1 742.8 L501.1 745.6 L502.1 748.4 L503.2 751.2 L504.2 754.0 L505.3 756.8 L506.4 759.6 L507.5 762.4 L508.6 765.2 L509.7 767.9 L510.9 770.7 L512.0 773.5 L513.2 776.2 L514.4 779.0 L515.6 781.7 L516.8 784.4 L518.0 787.2 L519.3 789.9 L520.6 792.6 L521.9 795.3 L523.2 798.0 L524.5 800.7 L525.8 803.3 L527.2 806.0 L528.6 808.7 L529.9 811.3 L531.3 814.0 L532.8 816.6 L534.2 819.2 L535.6 821.9 L537.1 824.5 L538.5 827.1 L540.0 829.7 L541.5 832.3 L543.0 834.9 L544.5 837.5 L546.1 840.1 L547.6 842.6 L549.2 845.2 L550.8 847.8 L552.4 850.3 L554.0 852.8 L555.6 855.3 L557.3 857.8 L559.0 860.3 L560.6 862.8 L562.4 865.2 L564.1 867.6 L565.9 870.1 L567.6 872.5 L569.4 874.9 L571.3 877.2 L573.1 879.6 L575.0 881.9 L576.9 884.2 L578.8 886.5 L580.8 888.8 L582.7 891.0 L584.7 893.3 L586.7 895.5 L588.7 897.7 L590.8 899.8 L592.9 902.0 L595.0 904.1 L597.1 906.2 L599.2 908.3 L601.4 910.4 L603.6 912.4 L605.8 914.4 L608.0 916.4 L610.3 918.4 L612.5 920.4 L614.8 922.3 L617.1 924.2 L619.4 926.2 L621.7 928.0 L624.1 929.9 L626.4 931.8 L628.8 933.6 L631.2 935.4 L633.6 937.2 L636.0 939.0 L638.4 940.8 L640.9 942.5 L643.3 944.2 L645.8 946.0 L648.3 947.7 L650.7 949.3 L653.2 951.0 L655.7 952.7 L658.2 954.3 L660.8 956.0 L663.3 957.6 L665.8 959.2 L668.4 960.7 L670.9 962.3 L673.5 963.9 L676.1 965.4 L678.7 966.9 L681.3 968.5 L683.9 970.0 L686.5 971.4 L689.1 972.9 L691.7 974.4 L694.3 975.8 L697.0 977.2 L699.6 978.6 L702.3 980.0 L704.9 981.4 L707.6 982.7 L710.3 984.1 L713.0 985.4 L715.7 986.7 L718.4 988.0 L721.1 989.2 L723.8 990.5 L726.6 991.7 L729.3 992.9 L732.1 994.1 L734.8 995.3 L737.6 996.5 L740.3 997.6 L743.1 998.7 L745.9 999.8 L748.7 1000.9 L751.5 1001.9 L754.3 1003.0 L757.1 1004.0 L760.0 1005.0 L762.8 1006.0 L765.6 1006.9 L768.5 1007.8 L771.3 1008.7 L774.2 1009.6 L777.0 1010.5 L779.9 1011.4 L782.8 1012.2 L785.7 1013.0 L788.6 1013.8 L791.5 1014.6 L794.4 1015.3 L797.3 1016.0 L800.2 1016.7 L803.1 1017.4 L806.0 1018.1 L808.9 1018.8 L811.9 1019.4 L814.8 1020.0 L817.7 1020.7 L820.7 1021.2 L823.6 1021.8 L826.6 1022.4 L829.5 1022.9 L832.5 1023.5 L835.4 1024.0 L838.4 1024.5 L841.3 1025.0 L844.3 1025.4 L847.2 1025.9 L850.2 1026.3 L853.2 1026.8 L856.1 1027.2 L859.1 1027.6 L862.1 1028.0 L865.1 1028.4 L868.0 1028.7 L871.0 1029.1 L874.0 1029.5 L877.0 1029.8 L879.9 1030.2 L882.9 1030.5 L885.9 1030.8 L888.9 1031.1 L891.9 1031.4 L894.9 1031.7 L897.8 1032.0 L900.8 1032.3 L903.8 1032.6 L906.8 1032.9 L909.8 1033.2 L912.8 1033.5 L915.8 1033.7 L918.7 1034.0 L921.7 1034.3 L924.7 1034.5 L927.7 1034.8 L930.7 1035.0 L933.7 1035.3 L936.7 1035.5 L939.7 1035.8 L942.6 1036.0 L945.6 1036.2 L948.6 1036.5 L951.6 1036.7 L954.6 1036.9 L957.6 1037.2 L960.6 1037.4 L963.6 1037.6 L966.6 1037.9 L969.6 1038.1 L972.5 1038.3 L975.5 1038.5 L978.5 1038.7 L981.5 1038.9 L984.5 1039.2 L987.5 1039.4 L990.5 1039.6 L993.5 1039.8 L996.5 1040.0 L999.5 1040.2 L1002.5 1040.4 L1005.4 1040.6 L1008.4 1040.8 L1011.4 1041.0 L1014.4 1041.2 L1017.4 1041.4 L1020.4 1041.6 L1023.4 1041.8 L1026.4 1042.0 L1029.4 1042.2 L1032.4 1042.4 L1035.4 1042.6 L1038.3 1042.8 L1041.3 1043.0 L1044.3 1043.1 L1047.3 1043.3 L1050.3 1043.5 L1053.3 1043.7 L1056.3 1043.9 L1059.3 1044.0 L1062.3 1044.2 L1065.3 1044.4 L1068.3 1044.6 L1071.3 1044.7 L1074.3 1044.9 L1077.2 1045.1 L1080.2 1045.2 L1083.2 1045.4 L1086.2 1045.6 L1089.2 1045.7 L1092.2 1045.9 L1095.2 1046.0 L1098.2 1046.2 L1101.2 1046.3 L1104.2 1046.5 L1107.2 1046.7 L1110.2 1046.8 L1113.2 1046.9 L1116.2 1047.1 L1119.2 1047.2 L1122.2 1047.4 L1125.1 1047.5 L1128.1 1047.6 L1131.1 1047.8 L1134.1 1047.9 L1137.1 1048.0 L1140.1 1048.2 L1143.1 1048.3 L1146.1 1048.4 L1149.1 1048.5 L1152.1 1048.7 L1155.1 1048.8 L1158.1 1048.9 L1161.1 1049.0 L1164.1 1049.1 L1167.1 1049.2 L1170.1 1049.3 L1173.1 1049.4 L1176.1 1049.5 L1179.1 1049.6 L1182.1 1049.7 L1185.1 1049.8 L1188.1 1049.9 L1191.1 1050.0 L1194.0 1050.1 L1197.0 1050.2 L1200.0 1050.3 L1203.0 1050.3 L1206.0 1050.4 L1209.0 1050.5 L1212.0 1050.6 L1215.0 1050.7 L1218.0 1050.7 L1221.0 1050.8 L1224.0 1050.9 L1227.0 1050.9 L1230.0 1051.0 L1233.0 1051.1 L1236.0 1051.1 L1239.0 1051.2 L1242.0 1051.3 L1245.0 1051.3 L1248.0 1051.4 L1251.0 1051.4 L1254.0 1051.5 L1257.0 1051.5 L1260.0 1051.6 L1263.0 1051.6 L1266.0 1051.7 L1269.0 1051.7 L1272.0 1051.8 L1275.0 1051.8 L1278.0 1051.9 L1281.0 1051.9 L1284.0 1051.9 L1287.0 1052.0 L1290.0 1052.0 L1292.9 1052.1 L1295.9 1052.1 L1298.9 1052.1 L1301.9 1052.2 L1304.9 1052.2 L1307.9 1052.2 L1310.9 1052.3 L1313.9 1052.3 L1316.9 1052.3 L1319.9 1052.3 L1322.9 1052.4 L1325.9 1052.4 L1328.9 1052.4 L1331.9 1052.5 L1334.9 1052.5 L1337.9 1052.5 L1340.9 1052.5 L1343.9 1052.6 L1346.9 1052.6 L1349.9 1052.6 L1352.9 1052.6 L1355.9 1052.6 L1358.9 1052.7 L1361.9 1052.7 L1364.9 1052.7 L1367.9 1052.8 L1370.9 1052.8 L1373.9 1052.8 L1376.9 1052.8 L1379.9 1052.9 L1382.9 1052.9 L1385.9 1052.9 L1388.9 1053.0 L1391.9 1053.0 L1394.9 1053.1 L1397.9 1053.1 L1400.9 1053.1 L1403.9 1053.2 L1406.9 1053.2 L1409.9 1053.3 L1412.8 1053.4 L1415.8 1053.4 L1418.8 1053.5 L1421.8 1053.5 L1424.8 1053.6 L1427.8 1053.7 L1430.8 1053.7 L1433.8 1053.8 L1436.8 1053.9 L1439.8 1053.9 L1442.8 1054.0 L1445.8 1054.1 L1448.8 1054.2 L1451.8 1054.2 L1454.8 1054.3 L1457.8 1054.4 L1460.8 1054.5 L1463.8 1054.5 L1466.8 1054.6 L1469.8 1054.7 L1472.8 1054.8 L1475.8 1054.8 L1478.8 1054.9 L1481.8 1055.0 L1484.8 1055.1 L1487.8 1055.1 L1490.8 1055.2 L1493.8 1055.3 L1496.8 1055.4 L1499.8 1055.4 L1502.8 1055.5 L1505.7 1055.6 L1508.7 1055.6 L1511.7 1055.7 L1514.7 1055.7 L1517.7 1055.8 L1520.7 1055.9 L1523.7 1055.9 L1526.7 1056.0 L1529.7 1056.0 L1532.7 1056.1 L1535.7 1056.1 L1538.7 1056.1 L1541.7 1056.2 L1544.7 1056.2 L1547.7 1056.3 L1550.7 1056.3 L1553.7 1056.3 L1556.7 1056.3 L1559.7 1056.4 L1562.7 1056.4 L1565.7 1056.4 L1568.7 1056.4 L1571.7 1056.4 L1574.7 1056.5 L1577.7 1056.5 L1580.7 1056.5 L1583.7 1056.5 L1586.7 1056.5 L1589.7 1056.5 L1592.7 1056.5 L1595.7 1056.5 L1598.7 1056.5 L1601.7 1056.5 L1604.7 1056.5 L1607.7 1056.5 L1610.7 1056.5 L1613.7 1056.5 L1616.6 1056.5 L1619.6 1056.5 L1622.6 1056.5 L1625.6 1056.5 L1628.6 1056.5 L1631.6 1056.5 L1634.6 1056.5 L1637.6 1056.4 L1640.6 1056.4 L1643.6 1056.4 L1646.6 1056.4 L1649.6 1056.4 L1652.6 1056.4 L1655.6 1056.4 L1658.6 1056.4 L1661.6 1056.3 L1664.6 1056.3 L1667.6 1056.3 L1670.6 1056.3 L1673.6 1056.3 L1676.6 1056.3 L1679.6 1056.2 L1682.6 1056.2 L1685.6 1056.2 L1688.6 1056.2 L1691.6 1056.2 L1694.6 1056.2 L1697.6 1056.2 L1700.6 1056.1 L1703.6 1056.1 L1706.6 1056.1 L1709.6 1056.1 L1712.6 1056.1 L1715.6 1056.1 L1718.6 1056.1 L1721.6 1056.1 L1724.6 1056.1 L1727.6 1056.0 L1730.6 1056.0 L1733.6 1056.0 L1736.6 1056.0 L1739.6 1056.0 L1742.6 1056.0 L1745.6 1056.0 L1748.6 1056.0 L1751.6 1056.0 L1754.5 1056.0 L1757.5 1056.0 L1760.5 1056.0 L1763.5 1056.0 L1766.5 1056.0 L1769.5 1056.0 L1772.5 1056.0 L1775.5 1055.9 L1778.5 1055.9 L1781.5 1055.9 L1784.5 1055.9 L1787.5 1055.9 L1790.5 1055.9 L1793.5 1055.9 L1796.5 1055.9 L1799.5 1055.9 L1802.5 1055.9 L1805.5 1055.9 L1808.5 1055.9 L1811.5 1055.9 L1814.5 1055.9 L1817.5 1055.9 L1820.5 1055.9 L1823.5 1055.9 L1826.5 1055.9 L1829.5 1055.9 L1832.5 1055.9 L1835.5 1055.9 L1838.5 1055.9 L1841.5 1055.9 L1844.5 1055.9 L1847.5 1055.9 L1850.5 1055.9 L1853.5 1056.0 L1856.5 1056.0 L1859.5 1056.0 L1862.5 1056.0 L1865.5 1056.0 L1868.5 1056.0 L1871.5 1056.0 L1874.5 1056.0 L1877.5 1056.0 L1880.5 1056.0 L1883.5 1056.0 L1886.4 1056.0 L1889.4 1056.0 L1892.4 1056.0 L1895.4 1056.0 L1898.4 1056.0 L1901.4 1056.0 L1904.4 1056.0 L1907.4 1056.0 L1910.4 1056.0 L1913.4 1056.0 L1916.4 1056.0 L1919.4 1056.0 L1922.4 1056.1 L1925.4 1056.1 L1928.4 1056.1 L1931.4 1056.1 L1934.4 1056.1 L1937.4 1056.1 L1940.4 1056.1 L1943.4 1056.1 L1946.4 1056.1" stroke="#0000ff" stroke-width="3.4"/>
<path d="M183.0 1168.0 L184.9 1165.7 L186.9 1163.4 L188.8 1161.1 L190.8 1158.8 L192.8 1156.5 L194.8 1154.3 L196.8 1152.1 L198.8 1149.9 L200.9 1147.7 L203.0 1145.6 L205.2 1143.4 L207.3 1141.4 L209.5 1139.3 L211.8 1137.3 L214.1 1135.4 L216.4 1133.5 L218.7 1131.6 L221.1 1129.8 L223.6 1128.0 L226.0 1126.3 L228.5 1124.7 L231.1 1123.1 L233.7 1121.6 L236.3 1120.1 L238.9 1118.7 L241.6 1117.4 L244.4 1116.2 L247.1 1115.1 L249.9 1114.0 L252.8 1113.1 L255.7 1112.2 L258.5 1111.5 L261.5 1110.8 L264.4 1110.3 L267.4 1109.9 L270.3 1109.6 L273.3 1109.5 L276.2 1109.6 L279.2 1109.8 L282.1 1110.1 L284.9 1110.6 L287.8 1111.4 L290.5 1112.2 L293.2 1113.3 L295.8 1114.6 L298.4 1116.0 L300.9 1117.5 L303.3 1119.2 L305.7 1121.0 L308.0 1122.9 L310.2 1124.9 L312.4 1127.0 L314.6 1129.1 L316.7 1131.2 L318.8 1133.4 L320.9 1135.6 L322.9 1137.9 L324.9 1140.1 L327.0 1142.4 L329.0 1144.6 L331.0 1146.9 L333.0 1149.1 L335.0 1151.4 L337.0 1153.6 L339.0 1155.8 L341.0 1158.1 L343.0 1160.3 L345.0 1162.6 L347.0 1164.8 L349.0 1167.1 L351.0 1169.3 L352.9 1171.6 L354.9 1173.8 L356.9 1176.1 L358.9 1178.3 L360.9 1180.6 L362.9 1182.8 L364.8 1185.0 L366.8 1187.3 L368.8 1189.5 L370.9 1191.7 L372.9 1193.9 L374.9 1196.1 L376.9 1198.3 L379.0 1200.5 L381.0 1202.7 L383.1 1204.9 L385.1 1207.1 L387.2 1209.3 L389.3 1211.4 L391.4 1213.6 L393.5 1215.7 L395.6 1217.8 L397.8 1220.0 L399.9 1222.1 L402.1 1224.2 L404.2 1226.3 L406.4 1228.3 L408.6 1230.4 L410.8 1232.4 L413.1 1234.4 L415.3 1236.3 L417.6 1238.3 L420.0 1240.2 L422.3 1242.0 L424.7 1243.8 L427.1 1245.6 L429.5 1247.3 L432.0 1248.9 L434.5 1250.5 L437.1 1252.0 L439.7 1253.5 L442.3 1254.9 L444.9 1256.2 L447.6 1257.5 L450.4 1258.7 L453.1 1259.8 L455.9 1260.8 L458.7 1261.8 L461.5 1262.7 L464.4 1263.5 L467.3 1264.3 L470.2 1264.9 L473.1 1265.6 L476.0 1266.1 L479.0 1266.6 L481.9 1267.0 L484.9 1267.4 L487.9 1267.7 L490.9 1268.0 L493.9 1268.2 L496.9 1268.4 L499.9 1268.5 L502.9 1268.6 L505.9 1268.7 L508.9 1268.7 L511.9 1268.7 L514.9 1268.7 L517.9 1268.6 L520.9 1268.5 L523.9 1268.4 L526.9 1268.3 L529.8 1268.1 L532.8 1268.0 L535.8 1267.8 L538.8 1267.6 L541.8 1267.4 L544.8 1267.2 L547.8 1267.0 L550.8 1266.7 L553.8 1266.5 L556.8 1266.3 L559.8 1266.0 L562.7 1265.8 L565.7 1265.6 L568.7 1265.3 L571.7 1265.1 L574.7 1264.9 L577.7 1264.6 L580.7 1264.4 L583.7 1264.2 L586.6 1264.0 L589.6 1263.8 L592.6 1263.6 L595.6 1263.4 L598.6 1263.2 L601.6 1263.0 L604.6 1262.8 L607.6 1262.6 L610.6 1262.5 L613.6 1262.3 L616.5 1262.1 L619.5 1262.0 L622.5 1261.8 L625.5 1261.7 L628.5 1261.6 L631.5 1261.5 L634.5 1261.3 L637.5 1261.2 L640.5 1261.1 L643.5 1261.0 L646.5 1260.9 L649.5 1260.8 L652.5 1260.8 L655.4 1260.7 L658.4 1260.6 L661.4 1260.5 L664.4 1260.5 L667.4 1260.4 L670.4 1260.4 L673.4 1260.3 L676.4 1260.3 L679.4 1260.2 L682.4 1260.2 L685.4 1260.1 L688.4 1260.1 L691.4 1260.1 L694.4 1260.0 L697.4 1260.0 L700.4 1260.0 L703.4 1259.9 L706.4 1259.9 L709.4 1259.9 L712.3 1259.8 L715.3 1259.8 L718.3 1259.8 L721.3 1259.7 L724.3 1259.7 L727.3 1259.7 L730.3 1259.7 L733.3 1259.6 L736.3 1259.6 L739.3 1259.6 L742.3 1259.6 L745.3 1259.6 L748.3 1259.5 L751.3 1259.5 L754.3 1259.5 L757.3 1259.5 L760.3 1259.5 L763.3 1259.4 L766.3 1259.4 L769.3 1259.4 L772.3 1259.4 L775.3 1259.3 L778.3 1259.3 L781.2 1259.3 L784.2 1259.3 L787.2 1259.2 L790.2 1259.2 L793.2 1259.2 L796.2 1259.1 L799.2 1259.1 L802.2 1259.1 L805.2 1259.0 L808.2 1259.0 L811.2 1258.9 L814.2 1258.9 L817.2 1258.8 L820.2 1258.8 L823.2 1258.7 L826.2 1258.7 L829.2 1258.6 L832.2 1258.6 L835.2 1258.5 L838.2 1258.4 L841.1 1258.4 L844.1 1258.3 L847.1 1258.2 L850.1 1258.2 L853.1 1258.1 L856.1 1258.0 L859.1 1257.9 L862.1 1257.8 L865.1 1257.8 L868.1 1257.7 L871.1 1257.6 L874.1 1257.5 L877.1 1257.4 L880.1 1257.3 L883.1 1257.2 L886.1 1257.1 L889.0 1257.0 L892.0 1256.9 L895.0 1256.8 L898.0 1256.6 L901.0 1256.5 L904.0 1256.4 L907.0 1256.3 L910.0 1256.2 L913.0 1256.0 L916.0 1255.9 L919.0 1255.8 L922.0 1255.6 L925.0 1255.5 L928.0 1255.4 L930.9 1255.2 L933.9 1255.1 L936.9 1254.9 L939.9 1254.8 L942.9 1254.6 L945.9 1254.5 L948.9 1254.3 L951.9 1254.2 L954.9 1254.0 L957.9 1253.9 L960.9 1253.7 L963.9 1253.6 L966.8 1253.4 L969.8 1253.2 L972.8 1253.1 L975.8 1252.9 L978.8 1252.7 L981.8 1252.6 L984.8 1252.4 L987.8 1252.2 L990.8 1252.0 L993.8 1251.9 L996.8 1251.7 L999.7 1251.5 L1002.7 1251.4 L1005.7 1251.2 L1008.7 1251.0 L1011.7 1250.8 L1014.7 1250.7 L1017.7 1250.5 L1020.7 1250.3 L1023.7 1250.1 L1026.7 1250.0 L1029.6 1249.8 L1032.6 1249.6 L1035.6 1249.5 L1038.6 1249.3 L1041.6 1249.1 L1044.6 1248.9 L1047.6 1248.8 L1050.6 1248.6 L1053.6 1248.4 L1056.6 1248.3 L1059.6 1248.1 L1062.5 1247.9 L1065.5 1247.8 L1068.5 1247.6 L1071.5 1247.4 L1074.5 1247.3 L1077.5 1247.1 L1080.5 1246.9 L1083.5 1246.8 L1086.5 1246.6 L1089.5 1246.5 L1092.5 1246.3 L1095.4 1246.2 L1098.4 1246.0 L1101.4 1245.9 L1104.4 1245.7 L1107.4 1245.6 L1110.4 1245.4 L1113.4 1245.3 L1116.4 1245.1 L1119.4 1245.0 L1122.4 1244.8 L1125.4 1244.7 L1128.4 1244.5 L1131.3 1244.4 L1134.3 1244.3 L1137.3 1244.1 L1140.3 1244.0 L1143.3 1243.9 L1146.3 1243.7 L1149.3 1243.6 L1152.3 1243.4 L1155.3 1243.3 L1158.3 1243.2 L1161.3 1243.0 L1164.3 1242.9 L1167.2 1242.8 L1170.2 1242.6 L1173.2 1242.5 L1176.2 1242.4 L1179.2 1242.2 L1182.2 1242.1 L1185.2 1242.0 L1188.2 1241.8 L1191.2 1241.7 L1194.2 1241.6 L1197.2 1241.4 L1200.2 1241.3 L1203.2 1241.2 L1206.2 1241.1 L1209.1 1240.9 L1212.1 1240.8 L1215.1 1240.7 L1218.1 1240.6 L1221.1 1240.4 L1224.1 1240.3 L1227.1 1240.2 L1230.1 1240.1 L1233.1 1239.9 L1236.1 1239.8 L1239.1 1239.7 L1242.1 1239.6 L1245.1 1239.4 L1248.1 1239.3 L1251.0 1239.2 L1254.0 1239.1 L1257.0 1239.0 L1260.0 1238.8 L1263.0 1238.7 L1266.0 1238.6 L1269.0 1238.5 L1272.0 1238.4 L1275.0 1238.2 L1278.0 1238.1 L1281.0 1238.0 L1284.0 1237.9 L1287.0 1237.8 L1290.0 1237.6 L1292.9 1237.5 L1295.9 1237.4 L1298.9 1237.3 L1301.9 1237.2 L1304.9 1237.0 L1307.9 1236.9 L1310.9 1236.8 L1313.9 1236.7 L1316.9 1236.6 L1319.9 1236.5 L1322.9 1236.4 L1325.9 1236.2 L1328.9 1236.1 L1331.9 1236.0 L1334.9 1235.9 L1337.8 1235.8 L1340.8 1235.7 L1343.8 1235.6 L1346.8 1235.5 L1349.8 1235.4 L1352.8 1235.3 L1355.8 1235.2 L1358.8 1235.1 L1361.8 1234.9 L1364.8 1234.8 L1367.8 1234.7 L1370.8 1234.6 L1373.8 1234.5 L1376.8 1234.4 L1379.8 1234.3 L1382.7 1234.2 L1385.7 1234.2 L1388.7 1234.1 L1391.7 1234.0 L1394.7 1233.9 L1397.7 1233.8 L1400.7 1233.7 L1403.7 1233.6 L1406.7 1233.5 L1409.7 1233.4 L1412.7 1233.3 L1415.7 1233.2 L1418.7 1233.1 L1421.7 1233.0 L1424.7 1233.0 L1427.7 1232.9 L1430.7 1232.8 L1433.6 1232.7 L1436.6 1232.6 L1439.6 1232.6 L1442.6 1232.5 L1445.6 1232.4 L1448.6 1232.3 L1451.6 1232.3 L1454.6 1232.2 L1457.6 1232.2 L1460.6 1232.1 L1463.6 1232.0 L1466.6 1232.0 L1469.6 1231.9 L1472.6 1231.9 L1475.6 1231.8 L1478.6 1231.8 L1481.6 1231.8 L1484.6 1231.7 L1487.6 1231.7 L1490.6 1231.7 L1493.5 1231.7 L1496.5 1231.6 L1499.5 1231.6 L1502.5 1231.6 L1505.5 1231.6 L1508.5 1231.6 L1511.5 1231.6 L1514.5 1231.6 L1517.5 1231.6 L1520.5 1231.6 L1523.5 1231.6 L1526.5 1231.6 L1529.5 1231.6 L1532.5 1231.7 L1535.5 1231.7 L1538.5 1231.7 L1541.5 1231.8 L1544.5 1231.8 L1547.5 1231.8 L1550.5 1231.9 L1553.4 1231.9 L1556.4 1232.0 L1559.4 1232.1 L1562.4 1232.1 L1565.4 1232.2 L1568.4 1232.3 L1571.4 1232.3 L1574.4 1232.4 L1577.4 1232.5 L1580.4 1232.6 L1583.4 1232.7 L1586.4 1232.8 L1589.4 1232.9 L1592.4 1233.0 L1595.4 1233.1 L1598.4 1233.2 L1601.4 1233.3 L1604.3 1233.4 L1607.3 1233.6 L1610.3 1233.7 L1613.3 1233.8 L1616.3 1234.0 L1619.3 1234.1 L1622.3 1234.3 L1625.3 1234.4 L1628.3 1234.6 L1631.3 1234.7 L1634.3 1234.9 L1637.3 1235.1 L1640.2 1235.2 L1643.2 1235.4 L1646.2 1235.6 L1649.2 1235.8 L1652.2 1236.0 L1655.2 1236.2 L1658.2 1236.4 L1661.2 1236.6 L1664.2 1236.8 L1667.1 1237.0 L1670.1 1237.2 L1673.1 1237.4 L1676.1 1237.7 L1679.1 1237.9 L1682.1 1238.1 L1685.1 1238.4 L1688.1 1238.6 L1691.0 1238.9 L1694.0 1239.1 L1697.0 1239.4 L1700.0 1239.6 L1703.0 1239.9 L1706.0 1240.2 L1709.0 1240.4 L1711.9 1240.7 L1714.9 1241.0 L1717.9 1241.3 L1720.9 1241.6 L1723.9 1241.9 L1726.9 1242.2 L1729.8 1242.5 L1732.8 1242.8 L1735.8 1243.1 L1738.8 1243.5 L1741.7 1243.8 L1744.7 1244.2 L1747.7 1244.5 L1750.7 1244.9 L1753.6 1245.3 L1756.6 1245.7 L1759.6 1246.1 L1762.5 1246.6 L1765.5 1247.0 L1768.4 1247.5 L1771.4 1247.9 L1774.4 1248.4 L1777.3 1248.9 L1780.3 1249.5 L1783.2 1250.0 L1786.1 1250.5 L1789.1 1251.1 L1792.0 1251.7 L1795.0 1252.3 L1797.9 1252.9 L1800.8 1253.5 L1803.7 1254.2 L1806.7 1254.8 L1809.6 1255.5 L1812.5 1256.2 L1815.4 1256.9 L1818.3 1257.6 L1821.2 1258.3 L1824.2 1259.0 L1827.1 1259.7 L1830.0 1260.5 L1832.9 1261.2 L1835.8 1262.0 L1838.7 1262.8 L1841.5 1263.6 L1844.4 1264.4 L1847.3 1265.2 L1850.2 1266.0 L1853.1 1266.8 L1855.9 1267.7 L1858.8 1268.5 L1861.7 1269.4 L1864.5 1270.3 L1867.4 1271.2 L1870.2 1272.1 L1873.1 1273.0 L1875.9 1273.9 L1878.8 1274.9 L1881.6 1275.8 L1884.5 1276.8 L1887.3 1277.8 L1890.1 1278.7 L1893.0 1279.7 L1895.8 1280.7 L1898.6 1281.7 L1901.4 1282.7 L1904.3 1283.7 L1907.1 1284.7 L1909.9 1285.7 L1912.7 1286.8 L1915.5 1287.8 L1918.3 1288.8 L1921.2 1289.8 L1924.0 1290.9 L1926.8 1291.9 L1929.6 1293.0 L1932.4 1294.0 L1935.2 1295.1 L1938.0 1296.1 L1940.8 1297.2 L1943.6 1298.2 L1946.4 1299.3" stroke="#ff0000" stroke-opacity="0.10" stroke-width="6.6"/>
<path d="M183.0 1168.0 L184.9 1165.7 L186.9 1163.4 L188.8 1161.1 L190.8 1158.8 L192.8 1156.5 L194.8 1154.3 L196.8 1152.1 L198.8 1149.9 L200.9 1147.7 L203.0 1145.6 L205.2 1143.4 L207.3 1141.4 L209.5 1139.3 L211.8 1137.3 L214.1 1135.4 L216.4 1133.5 L218.7 1131.6 L221.1 1129.8 L223.6 1128.0 L226.0 1126.3 L228.5 1124.7 L231.1 1123.1 L233.7 1121.6 L236.3 1120.1 L238.9 1118.7 L241.6 1117.4 L244.4 1116.2 L247.1 1115.1 L249.9 1114.0 L252.8 1113.1 L255.7 1112.2 L258.5 1111.5 L261.5 1110.8 L264.4 1110.3 L267.4 1109.9 L270.3 1109.6 L273.3 1109.5 L276.2 1109.6 L279.2 1109.8 L282.1 1110.1 L284.9 1110.6 L287.8 1111.4 L290.5 1112.2 L293.2 1113.3 L295.8 1114.6 L298.4 1116.0 L300.9 1117.5 L303.3 1119.2 L305.7 1121.0 L308.0 1122.9 L310.2 1124.9 L312.4 1127.0 L314.6 1129.1 L316.7 1131.2 L318.8 1133.4 L320.9 1135.6 L322.9 1137.9 L324.9 1140.1 L327.0 1142.4 L329.0 1144.6 L331.0 1146.9 L333.0 1149.1 L335.0 1151.4 L337.0 1153.6 L339.0 1155.8 L341.0 1158.1 L343.0 1160.3 L345.0 1162.6 L347.0 1164.8 L349.0 1167.1 L351.0 1169.3 L352.9 1171.6 L354.9 1173.8 L356.9 1176.1 L358.9 1178.3 L360.9 1180.6 L362.9 1182.8 L364.8 1185.0 L366.8 1187.3 L368.8 1189.5 L370.9 1191.7 L372.9 1193.9 L374.9 1196.1 L376.9 1198.3 L379.0 1200.5 L381.0 1202.7 L383.1 1204.9 L385.1 1207.1 L387.2 1209.3 L389.3 1211.4 L391.4 1213.6 L393.5 1215.7 L395.6 1217.8 L397.8 1220.0 L399.9 1222.1 L402.1 1224.2 L404.2 1226.3 L406.4 1228.3 L408.6 1230.4 L410.8 1232.4 L413.1 1234.4 L415.3 1236.3 L417.6 1238.3 L420.0 1240.2 L422.3 1242.0 L424.7 1243.8 L427.1 1245.6 L429.5 1247.3 L432.0 1248.9 L434.5 1250.5 L437.1 1252.0 L439.7 1253.5 L442.3 1254.9 L444.9 1256.2 L447.6 1257.5 L450.4 1258.7 L453.1 1259.8 L455.9 1260.8 L458.7 1261.8 L461.5 1262.7 L464.4 1263.5 L467.3 1264.3 L470.2 1264.9 L473.1 1265.6 L476.0 1266.1 L479.0 1266.6 L481.9 1267.0 L484.9 1267.4 L487.9 1267.7 L490.9 1268.0 L493.9 1268.2 L496.9 1268.4 L499.9 1268.5 L502.9 1268.6 L505.9 1268.7 L508.9 1268.7 L511.9 1268.7 L514.9 1268.7 L517.9 1268.6 L520.9 1268.5 L523.9 1268.4 L526.9 1268.3 L529.8 1268.1 L532.8 1268.0 L535.8 1267.8 L538.8 1267.6 L541.8 1267.4 L544.8 1267.2 L547.8 1267.0 L550.8 1266.7 L553.8 1266.5 L556.8 1266.3 L559.8 1266.0 L562.7 1265.8 L565.7 1265.6 L568.7 1265.3 L571.7 1265.1 L574.7 1264.9 L577.7 1264.6 L580.7 1264.4 L583.7 1264.2 L586.6 1264.0 L589.6 1263.8 L592.6 1263.6 L595.6 1263.4 L598.6 1263.2 L601.6 1263.0 L604.6 1262.8 L607.6 1262.6 L610.6 1262.5 L613.6 1262.3 L616.5 1262.1 L619.5 1262.0 L622.5 1261.8 L625.5 1261.7 L628.5 1261.6 L631.5 1261.5 L634.5 1261.3 L637.5 1261.2 L640.5 1261.1 L643.5 1261.0 L646.5 1260.9 L649.5 1260.8 L652.5 1260.8 L655.4 1260.7 L658.4 1260.6 L661.4 1260.5 L664.4 1260.5 L667.4 1260.4 L670.4 1260.4 L673.4 1260.3 L676.4 1260.3 L679.4 1260.2 L682.4 1260.2 L685.4 1260.1 L688.4 1260.1 L691.4 1260.1 L694.4 1260.0 L697.4 1260.0 L700.4 1260.0 L703.4 1259.9 L706.4 1259.9 L709.4 1259.9 L712.3 1259.8 L715.3 1259.8 L718.3 1259.8 L721.3 1259.7 L724.3 1259.7 L727.3 1259.7 L730.3 1259.7 L733.3 1259.6 L736.3 1259.6 L739.3 1259.6 L742.3 1259.6 L745.3 1259.6 L748.3 1259.5 L751.3 1259.5 L754.3 1259.5 L757.3 1259.5 L760.3 1259.5 L763.3 1259.4 L766.3 1259.4 L769.3 1259.4 L772.3 1259.4 L775.3 1259.3 L778.3 1259.3 L781.2 1259.3 L784.2 1259.3 L787.2 1259.2 L790.2 1259.2 L793.2 1259.2 L796.2 1259.1 L799.2 1259.1 L802.2 1259.1 L805.2 1259.0 L808.2 1259.0 L811.2 1258.9 L814.2 1258.9 L817.2 1258.8 L820.2 1258.8 L823.2 1258.7 L826.2 1258.7 L829.2 1258.6 L832.2 1258.6 L835.2 1258.5 L838.2 1258.4 L841.1 1258.4 L844.1 1258.3 L847.1 1258.2 L850.1 1258.2 L853.1 1258.1 L856.1 1258.0 L859.1 1257.9 L862.1 1257.8 L865.1 1257.8 L868.1 1257.7 L871.1 1257.6 L874.1 1257.5 L877.1 1257.4 L880.1 1257.3 L883.1 1257.2 L886.1 1257.1 L889.0 1257.0 L892.0 1256.9 L895.0 1256.8 L898.0 1256.6 L901.0 1256.5 L904.0 1256.4 L907.0 1256.3 L910.0 1256.2 L913.0 1256.0 L916.0 1255.9 L919.0 1255.8 L922.0 1255.6 L925.0 1255.5 L928.0 1255.4 L930.9 1255.2 L933.9 1255.1 L936.9 1254.9 L939.9 1254.8 L942.9 1254.6 L945.9 1254.5 L948.9 1254.3 L951.9 1254.2 L954.9 1254.0 L957.9 1253.9 L960.9 1253.7 L963.9 1253.6 L966.8 1253.4 L969.8 1253.2 L972.8 1253.1 L975.8 1252.9 L978.8 1252.7 L981.8 1252.6 L984.8 1252.4 L987.8 1252.2 L990.8 1252.0 L993.8 1251.9 L996.8 1251.7 L999.7 1251.5 L1002.7 1251.4 L1005.7 1251.2 L1008.7 1251.0 L1011.7 1250.8 L1014.7 1250.7 L1017.7 1250.5 L1020.7 1250.3 L1023.7 1250.1 L1026.7 1250.0 L1029.6 1249.8 L1032.6 1249.6 L1035.6 1249.5 L1038.6 1249.3 L1041.6 1249.1 L1044.6 1248.9 L1047.6 1248.8 L1050.6 1248.6 L1053.6 1248.4 L1056.6 1248.3 L1059.6 1248.1 L1062.5 1247.9 L1065.5 1247.8 L1068.5 1247.6 L1071.5 1247.4 L1074.5 1247.3 L1077.5 1247.1 L1080.5 1246.9 L1083.5 1246.8 L1086.5 1246.6 L1089.5 1246.5 L1092.5 1246.3 L1095.4 1246.2 L1098.4 1246.0 L1101.4 1245.9 L1104.4 1245.7 L1107.4 1245.6 L1110.4 1245.4 L1113.4 1245.3 L1116.4 1245.1 L1119.4 1245.0 L1122.4 1244.8 L1125.4 1244.7 L1128.4 1244.5 L1131.3 1244.4 L1134.3 1244.3 L1137.3 1244.1 L1140.3 1244.0 L1143.3 1243.9 L1146.3 1243.7 L1149.3 1243.6 L1152.3 1243.4 L1155.3 1243.3 L1158.3 1243.2 L1161.3 1243.0 L1164.3 1242.9 L1167.2 1242.8 L1170.2 1242.6 L1173.2 1242.5 L1176.2 1242.4 L1179.2 1242.2 L1182.2 1242.1 L1185.2 1242.0 L1188.2 1241.8 L1191.2 1241.7 L1194.2 1241.6 L1197.2 1241.4 L1200.2 1241.3 L1203.2 1241.2 L1206.2 1241.1 L1209.1 1240.9 L1212.1 1240.8 L1215.1 1240.7 L1218.1 1240.6 L1221.1 1240.4 L1224.1 1240.3 L1227.1 1240.2 L1230.1 1240.1 L1233.1 1239.9 L1236.1 1239.8 L1239.1 1239.7 L1242.1 1239.6 L1245.1 1239.4 L1248.1 1239.3 L1251.0 1239.2 L1254.0 1239.1 L1257.0 1239.0 L1260.0 1238.8 L1263.0 1238.7 L1266.0 1238.6 L1269.0 1238.5 L1272.0 1238.4 L1275.0 1238.2 L1278.0 1238.1 L1281.0 1238.0 L1284.0 1237.9 L1287.0 1237.8 L1290.0 1237.6 L1292.9 1237.5 L1295.9 1237.4 L1298.9 1237.3 L1301.9 1237.2 L1304.9 1237.0 L1307.9 1236.9 L1310.9 1236.8 L1313.9 1236.7 L1316.9 1236.6 L1319.9 1236.5 L1322.9 1236.4 L1325.9 1236.2 L1328.9 1236.1 L1331.9 1236.0 L1334.9 1235.9 L1337.8 1235.8 L1340.8 1235.7 L1343.8 1235.6 L1346.8 1235.5 L1349.8 1235.4 L1352.8 1235.3 L1355.8 1235.2 L1358.8 1235.1 L1361.8 1234.9 L1364.8 1234.8 L1367.8 1234.7 L1370.8 1234.6 L1373.8 1234.5 L1376.8 1234.4 L1379.8 1234.3 L1382.7 1234.2 L1385.7 1234.2 L1388.7 1234.1 L1391.7 1234.0 L1394.7 1233.9 L1397.7 1233.8 L1400.7 1233.7 L1403.7 1233.6 L1406.7 1233.5 L1409.7 1233.4 L1412.7 1233.3 L1415.7 1233.2 L1418.7 1233.1 L1421.7 1233.0 L1424.7 1233.0 L1427.7 1232.9 L1430.7 1232.8 L1433.6 1232.7 L1436.6 1232.6 L1439.6 1232.6 L1442.6 1232.5 L1445.6 1232.4 L1448.6 1232.3 L1451.6 1232.3 L1454.6 1232.2 L1457.6 1232.2 L1460.6 1232.1 L1463.6 1232.0 L1466.6 1232.0 L1469.6 1231.9 L1472.6 1231.9 L1475.6 1231.8 L1478.6 1231.8 L1481.6 1231.8 L1484.6 1231.7 L1487.6 1231.7 L1490.6 1231.7 L1493.5 1231.7 L1496.5 1231.6 L1499.5 1231.6 L1502.5 1231.6 L1505.5 1231.6 L1508.5 1231.6 L1511.5 1231.6 L1514.5 1231.6 L1517.5 1231.6 L1520.5 1231.6 L1523.5 1231.6 L1526.5 1231.6 L1529.5 1231.6 L1532.5 1231.7 L1535.5 1231.7 L1538.5 1231.7 L1541.5 1231.8 L1544.5 1231.8 L1547.5 1231.8 L1550.5 1231.9 L1553.4 1231.9 L1556.4 1232.0 L1559.4 1232.1 L1562.4 1232.1 L1565.4 1232.2 L1568.4 1232.3 L1571.4 1232.3 L1574.4 1232.4 L1577.4 1232.5 L1580.4 1232.6 L1583.4 1232.7 L1586.4 1232.8 L1589.4 1232.9 L1592.4 1233.0 L1595.4 1233.1 L1598.4 1233.2 L1601.4 1233.3 L1604.3 1233.4 L1607.3 1233.6 L1610.3 1233.7 L1613.3 1233.8 L1616.3 1234.0 L1619.3 1234.1 L1622.3 1234.3 L1625.3 1234.4 L1628.3 1234.6 L1631.3 1234.7 L1634.3 1234.9 L1637.3 1235.1 L1640.2 1235.2 L1643.2 1235.4 L1646.2 1235.6 L1649.2 1235.8 L1652.2 1236.0 L1655.2 1236.2 L1658.2 1236.4 L1661.2 1236.6 L1664.2 1236.8 L1667.1 1237.0 L1670.1 1237.2 L1673.1 1237.4 L1676.1 1237.7 L1679.1 1237.9 L1682.1 1238.1 L1685.1 1238.4 L1688.1 1238.6 L1691.0 1238.9 L1694.0 1239.1 L1697.0 1239.4 L1700.0 1239.6 L1703.0 1239.9 L1706.0 1240.2 L1709.0 1240.4 L1711.9 1240.7 L1714.9 1241.0 L1717.9 1241.3 L1720.9 1241.6 L1723.9 1241.9 L1726.9 1242.2 L1729.8 1242.5 L1732.8 1242.8 L1735.8 1243.1 L1738.8 1243.5 L1741.7 1243.8 L1744.7 1244.2 L1747.7 1244.5 L1750.7 1244.9 L1753.6 1245.3 L1756.6 1245.7 L1759.6 1246.1 L1762.5 1246.6 L1765.5 1247.0 L1768.4 1247.5 L1771.4 1247.9 L1774.4 1248.4 L1777.3 1248.9 L1780.3 1249.5 L1783.2 1250.0 L1786.1 1250.5 L1789.1 1251.1 L1792.0 1251.7 L1795.0 1252.3 L1797.9 1252.9 L1800.8 1253.5 L1803.7 1254.2 L1806.7 1254.8 L1809.6 1255.5 L1812.5 1256.2 L1815.4 1256.9 L1818.3 1257.6 L1821.2 1258.3 L1824.2 1259.0 L1827.1 1259.7 L1830.0 1260.5 L1832.9 1261.2 L1835.8 1262.0 L1838.7 1262.8 L1841.5 1263.6 L1844.4 1264.4 L1847.3 1265.2 L1850.2 1266.0 L1853.1 1266.8 L1855.9 1267.7 L1858.8 1268.5 L1861.7 1269.4 L1864.5 1270.3 L1867.4 1271.2 L1870.2 1272.1 L1873.1 1273.0 L1875.9 1273.9 L1878.8 1274.9 L1881.6 1275.8 L1884.5 1276.8 L1887.3 1277.8 L1890.1 1278.7 L1893.0 1279.7 L1895.8 1280.7 L1898.6 1281.7 L1901.4 1282.7 L1904.3 1283.7 L1907.1 1284.7 L1909.9 1285.7 L1912.7 1286.8 L1915.5 1287.8 L1918.3 1288.8 L1921.2 1289.8 L1924.0 1290.9 L1926.8 1291.9 L1929.6 1293.0 L1932.4 1294.0 L1935.2 1295.1 L1938.0 1296.1 L1940.8 1297.2 L1943.6 1298.2 L1946.4 1299.3" stroke="#ff0000" stroke-width="3.4"/>
</g>
<rect x="180.30" y="30.00" width="5.50" height="1295.00" fill="#232323"/>
<rect x="180.30" y="1325.00" width="5.50" height="2.70" fill="#b0b0b0"/>
<rect x="1943.90" y="30.00" width="2.20" height="1295.00" fill="#626262"/>
<rect x="1946.10" y="30.00" width="2.80" height="1295.00" fill="#000"/>
<rect x="1943.90" y="1325.00" width="5.00" height="2.60" fill="#d0d0d0"/>
<rect x="161.00" y="30.00" width="19.30" height="3.40" fill="#2a2a2a"/>
<rect x="161.00" y="33.40" width="19.30" height="1.80" fill="#050505"/>
<rect x="180.30" y="30.00" width="1768.60" height="3.40" fill="#141414"/>
<rect x="180.30" y="33.40" width="1768.60" height="1.80" fill="#000"/>
<rect x="161.00" y="1300.20" width="1787.90" height="2.80" fill="#a0a0a0"/>
<rect x="161.00" y="1303.00" width="1787.90" height="2.85" fill="#000"/>
<rect x="161.00" y="1305.85" width="1787.90" height="2.15" fill="#f4f4f4"/>
<rect x="180.30" y="1300.20" width="5.50" height="2.80" fill="#1c1c1c"/>
<rect x="1943.90" y="1300.20" width="2.20" height="2.80" fill="#4a4a4a"/>
<rect x="180.30" y="1305.85" width="5.50" height="2.15" fill="#262626"/>
<rect x="1943.90" y="1305.85" width="2.20" height="2.15" fill="#626262"/>
<rect x="1946.10" y="1305.85" width="2.80" height="2.15" fill="#000"/>
<rect x="161.00" y="283.58" width="20.00" height="2.70" fill="#a8a8a8"/>
<rect x="161.00" y="286.28" width="20.00" height="2.80" fill="#000"/>
<rect x="161.00" y="537.66" width="20.00" height="2.70" fill="#a8a8a8"/>
<rect x="161.00" y="540.36" width="20.00" height="2.80" fill="#000"/>
<rect x="161.00" y="791.74" width="20.00" height="2.70" fill="#a8a8a8"/>
<rect x="161.00" y="794.44" width="20.00" height="2.80" fill="#000"/>
<rect x="161.00" y="1045.82" width="20.00" height="2.70" fill="#a8a8a8"/>
<rect x="161.00" y="1048.52" width="20.00" height="2.80" fill="#000"/>
<rect x="172.00" y="158.34" width="9.00" height="3.20" fill="#000"/>
<rect x="172.00" y="161.54" width="9.00" height="2.60" fill="#8a8a8a"/>
<rect x="172.00" y="412.42" width="9.00" height="3.20" fill="#000"/>
<rect x="172.00" y="415.62" width="9.00" height="2.60" fill="#8a8a8a"/>
<rect x="172.00" y="666.50" width="9.00" height="3.20" fill="#000"/>
<rect x="172.00" y="669.70" width="9.00" height="2.60" fill="#8a8a8a"/>
<rect x="172.00" y="920.58" width="9.00" height="3.20" fill="#000"/>
<rect x="172.00" y="923.78" width="9.00" height="2.60" fill="#8a8a8a"/>
<rect x="172.00" y="1174.66" width="9.00" height="3.20" fill="#000"/>
<rect x="172.00" y="1177.86" width="9.00" height="2.60" fill="#8a8a8a"/>
<rect x="474.84" y="1305.00" width="3.00" height="20.00" fill="#000"/>
<rect x="477.84" y="1305.00" width="2.80" height="20.00" fill="#909090"/>
<rect x="474.84" y="1325.00" width="5.80" height="2.60" fill="#d0d0d0"/>
<rect x="768.73" y="1305.00" width="3.00" height="20.00" fill="#000"/>
<rect x="771.73" y="1305.00" width="2.80" height="20.00" fill="#909090"/>
<rect x="768.73" y="1325.00" width="5.80" height="2.60" fill="#d0d0d0"/>
<rect x="1062.63" y="1305.00" width="3.00" height="20.00" fill="#000"/>
<rect x="1065.63" y="1305.00" width="2.80" height="20.00" fill="#909090"/>
<rect x="1062.63" y="1325.00" width="5.80" height="2.60" fill="#d0d0d0"/>
<rect x="1356.52" y="1305.00" width="3.00" height="20.00" fill="#000"/>
<rect x="1359.52" y="1305.00" width="2.80" height="20.00" fill="#909090"/>
<rect x="1356.52" y="1325.00" width="5.80" height="2.60" fill="#d0d0d0"/>
<rect x="1650.41" y="1305.00" width="3.00" height="20.00" fill="#000"/>
<rect x="1653.41" y="1305.00" width="2.80" height="20.00" fill="#909090"/>
<rect x="1650.41" y="1325.00" width="5.80" height="2.60" fill="#d0d0d0"/>
<rect x="327.70" y="1305.00" width="5.30" height="9.00" fill="#1c1c1c"/>
<rect x="327.70" y="1314.00" width="5.30" height="2.80" fill="#d8d8d8"/>
<rect x="621.59" y="1305.00" width="5.30" height="9.00" fill="#1c1c1c"/>
<rect x="621.59" y="1314.00" width="5.30" height="2.80" fill="#d8d8d8"/>
<rect x="915.48" y="1305.00" width="5.30" height="9.00" fill="#1c1c1c"/>
<rect x="915.48" y="1314.00" width="5.30" height="2.80" fill="#d8d8d8"/>
<rect x="1209.37" y="1305.00" width="5.30" height="9.00" fill="#1c1c1c"/>
<rect x="1209.37" y="1314.00" width="5.30" height="2.80" fill="#d8d8d8"/>
<rect x="1503.26" y="1305.00" width="5.30" height="9.00" fill="#1c1c1c"/>
<rect x="1503.26" y="1314.00" width="5.30" height="2.80" fill="#d8d8d8"/>
<rect x="1797.15" y="1305.00" width="5.30" height="9.00" fill="#1c1c1c"/>
<rect x="1797.15" y="1314.00" width="5.30" height="2.80" fill="#d8d8d8"/>
<g>
<text class="tick" transform="translate(183.1 1379.3) scale(1 1.035)" text-anchor="middle">200</text>
<text class="tick" transform="translate(476.9 1379.3) scale(1 1.035)" text-anchor="middle">300</text>
<text class="tick" transform="translate(770.8 1379.3) scale(1 1.035)" text-anchor="middle">400</text>
<text class="tick" transform="translate(1064.7 1379.3) scale(1 1.035)" text-anchor="middle">500</text>
<text class="tick" transform="translate(1358.6 1379.3) scale(1 1.035)" text-anchor="middle">600</text>
<text class="tick" transform="translate(1652.5 1379.3) scale(1 1.035)" text-anchor="middle">700</text>
<text class="tick" transform="translate(1946.4 1379.3) scale(1 1.035)" text-anchor="middle">800</text>
<text class="title" transform="translate(1065.0 1470.7) scale(1.003 1.0)" text-anchor="middle">Wavelength / nm</text>
<text class="ytitle" transform="translate(100.3 667.6) rotate(-90) scale(1.001 1.01)" text-anchor="middle">Kubelka-Munk units / a.u.</text>
<text class="ann" transform="translate(319.5 193) rotate(-90) scale(1.005 1.04)">~240</text>
<text class="ann" transform="translate(559.5 266) rotate(-90) scale(1.015 1.07)">~350</text>
<text class="ann" transform="translate(357.8 372.5) rotate(-90) scale(1.015 1.04)">250</text>
<text class="ann" transform="translate(303.0 1100) rotate(-90) scale(1.015 1.07)">230</text>
<text class="ann" transform="translate(1519.8 1218) rotate(-90) scale(1.015 1.07)">~650</text>
<text class="au" transform="translate(1859.8 737) rotate(-90) scale(1 1.06)">1 a.u.</text>
<text class="lab" transform="translate(1798 335.8) scale(1.02 1.055)">Mn</text>
<text class="lab" transform="translate(1792.5 1041.7) scale(1.03 1.055)">Fe</text>
<text class="lab" transform="translate(1795.5 1229.4) scale(1.02 1.055)">Cu</text>
</g>
<rect x="1774.3" y="560" width="2.4" height="216" fill="#4a4a4a"/>
<path d="M1775.5 543 L1782.4 567 L1768.6 567 Z" fill="#000"/>
<path d="M1775.5 800 L1782.4 770 L1768.6 770 Z" fill="#000"/>
</svg></body></html>
